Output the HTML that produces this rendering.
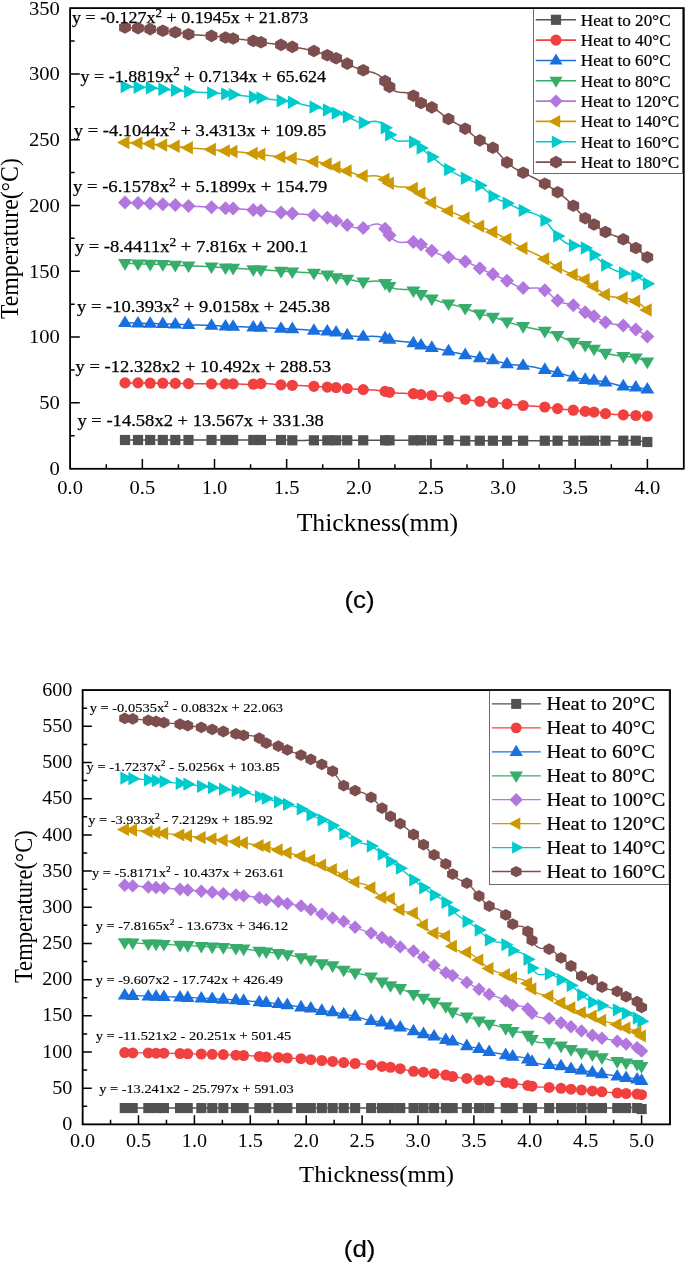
<!DOCTYPE html>
<html lang="en"><head><meta charset="utf-8"><title>Temperature vs thickness</title>
<style>html,body{margin:0;padding:0;background:#fff}svg{display:block}text{font-family:"Liberation Serif","DejaVu Serif",serif;fill:#000}.sans{font-family:"Liberation Sans","DejaVu Sans",sans-serif}</style>
</head><body>
<svg width="685" height="1263" viewBox="0 0 685 1263">
<rect width="685" height="1263" fill="#fff"/>
<g id="chart-c">
<path d="M125,440L126.4,440L127.9,440L129.3,440L130.8,440L132.2,440L133.7,440L135.1,440L136.6,440L138,440L139.4,440L140.7,440L142.1,440L143.4,440L144.8,440L146.1,440L147.5,440L148.8,440L150.2,440L151.6,440L153,440L154.4,440L155.8,440L157.2,440L158.6,440L160,440L161.4,440L162.8,440L164.2,440L165.6,440L167,440L168.4,440L169.7,440L171.1,440L172.5,440L173.9,440L175.3,440L176.8,440L178.2,440L179.7,440L181.2,440L182.6,440L184.1,440L185.6,440L187,440L188.5,440L189.9,440L191.4,440L192.8,440L194.2,440L195.7,440L197.1,440L198.6,440L200,440L201.4,440L202.9,440L204.3,440L205.8,440L207.2,440L208.6,440L210.1,440L211.5,440L212.9,440L214.3,440L215.7,440L217.1,440L218.5,440L219.9,440L221.3,440L222.7,440L224.1,440L225.5,440L226.8,440L228,440L229.3,440L230.6,440L231.8,440L233.1,440L234.5,440L236,440L237.4,440L238.9,440L240.3,440L241.8,440L243.2,440L244.6,440L246.1,440L247.5,440L249,440L250.4,440L251.9,440L253.3,440L254.6,440L255.8,440L257.1,440L258.4,440L259.6,440L260.9,440L262.3,440L263.8,440L265.2,440L266.6,440L268.1,440L269.5,440L270.9,439.9L272.4,439.9L273.8,439.9L275.3,439.9L276.7,439.9L278.1,440L279.6,440L281,440L282.4,440L283.8,440.1L285.2,440.1L286.6,440.1L288.1,440.2L289.5,440.2L290.9,440.3L292.3,440.3L293.7,440.3L295.2,440.3L296.6,440.4L298.1,440.4L299.5,440.4L300.9,440.4L302.4,440.4L303.8,440.4L305.3,440.4L306.7,440.3L308.1,440.3L309.6,440.3L311,440.3L312.5,440.3L313.9,440.3L315.4,440.3L316.9,440.3L318.4,440.3L319.9,440.3L321.3,440.3L322.8,440.3L324.3,440.3L325.8,440.3L327.3,440.3L328.8,440.3L330.2,440.3L331.7,440.3L333.2,440.3L334.6,440.3L336.1,440.3L337.5,440.3L338.9,440.3L340.3,440.3L341.6,440.3L343,440.3L344.4,440.3L345.8,440.3L347.2,440.3L348.7,440.3L350.1,440.3L351.6,440.3L353,440.3L354.5,440.3L355.9,440.3L357.4,440.3L358.8,440.3L360.3,440.3L361.7,440.3L363.2,440.3L364.7,440.3L366.1,440.3L367.6,440.3L369,440.3L370.5,440.3L372,440.3L373.4,440.3L374.9,440.3L376.3,440.3L377.8,440.3L379.3,440.3L380.7,440.3L382.2,440.3L383.6,440.3L385.1,440.3L386.6,440.3L388,440.3L389.5,440.3L391,440.3L392.5,440.3L394,440.3L395.5,440.3L397,440.3L398.5,440.3L400,440.3L401.4,440.3L402.9,440.3L404.4,440.3L405.9,440.3L407.4,440.3L408.9,440.3L410.4,440.3L411.9,440.3L413.4,440.3L414.7,440.3L415.9,440.3L417.2,440.3L418.5,440.3L419.7,440.3L421,440.3L422.4,440.3L423.7,440.3L425.1,440.3L426.4,440.3L427.8,440.3L429.1,440.3L430.4,440.3L431.8,440.3L433.2,440.3L434.6,440.3L436,440.3L437.4,440.3L438.8,440.3L440.1,440.3L441.5,440.3L442.9,440.3L444.3,440.3L445.7,440.3L447.1,440.3L448.5,440.3L449.9,440.3L451.3,440.4L452.7,440.4L454.1,440.4L455.5,440.5L456.9,440.5L458.2,440.5L459.6,440.6L461,440.6L462.4,440.6L463.8,440.7L465.2,440.7L466.7,440.7L468.1,440.7L469.6,440.7L471,440.7L472.5,440.7L474,440.7L475.4,440.7L476.9,440.7L478.3,440.7L479.8,440.7L481.3,440.7L482.7,440.7L484.2,440.7L485.6,440.7L487.1,440.7L488.5,440.7L490,440.7L491.4,440.7L492.9,440.7L494.3,440.7L495.7,440.7L497.1,440.7L498.5,440.7L499.9,440.7L501.4,440.7L502.8,440.7L504.2,440.7L505.6,440.7L507,440.7L508.5,440.7L509.9,440.7L511.4,440.7L512.9,440.7L514.3,440.7L515.8,440.7L517.2,440.7L518.7,440.7L520.2,440.7L521.6,440.7L523.1,440.7L524.5,440.7L526,440.7L527.4,440.7L528.9,440.7L530.3,440.7L531.8,440.7L533.2,440.7L534.7,440.7L536.1,440.7L537.6,440.7L539,440.7L540.5,440.7L541.9,440.7L543.4,440.7L544.8,440.7L546.2,440.7L547.6,440.7L549.1,440.7L550.5,440.7L551.9,440.7L553.3,440.7L554.8,440.7L556.2,440.7L557.6,440.7L559,440.7L560.5,440.7L561.9,440.7L563.3,440.7L564.7,440.7L566.2,440.7L567.6,440.7L569,440.7L570.4,440.7L571.9,440.7L573.3,440.7L574.8,440.7L576.3,440.7L577.8,440.7L579.2,440.7L580.7,440.7L582.2,440.7L583.7,440.7L585.2,440.7L586.7,440.7L588.1,440.7L589.6,440.7L591.1,440.7L592.5,440.7L594,440.7L595.4,440.7L596.9,440.7L598.3,440.7L599.8,440.7L601.2,440.7L602.6,440.7L604.1,440.7L605.5,440.7L607,440.7L608.5,440.7L610,440.7L611.4,440.7L612.9,440.7L614.4,440.7L615.9,440.7L617.4,440.7L618.8,440.7L620.3,440.7L621.8,440.7L623.3,440.7L624.7,440.7L626.1,440.6L627.5,440.6L628.9,440.6L630.2,440.6L631.6,440.6L633,440.6L634.4,440.6L635.8,440.7L637.2,440.8L638.7,440.9L640.1,441.1L641.5,441.2L643,441.4L644.4,441.6L645.9,441.8L647.3,442" fill="none" stroke="#515151" stroke-width="1.5"/>
<g fill="#515151"><rect x="119.9" y="434.9" width="10.2" height="10.2"/><rect x="132.9" y="434.9" width="10.2" height="10.2"/><rect x="145.1" y="434.9" width="10.2" height="10.2"/><rect x="157.7" y="434.9" width="10.2" height="10.2"/><rect x="170.2" y="434.9" width="10.2" height="10.2"/><rect x="183.4" y="434.9" width="10.2" height="10.2"/><rect x="206.4" y="434.9" width="10.2" height="10.2"/><rect x="220.4" y="434.9" width="10.2" height="10.2"/><rect x="228" y="434.9" width="10.2" height="10.2"/><rect x="248.2" y="434.9" width="10.2" height="10.2"/><rect x="255.8" y="434.9" width="10.2" height="10.2"/><rect x="275.9" y="434.9" width="10.2" height="10.2"/><rect x="287.2" y="435.2" width="10.2" height="10.2"/><rect x="308.8" y="435.2" width="10.2" height="10.2"/><rect x="322.2" y="435.2" width="10.2" height="10.2"/><rect x="331" y="435.2" width="10.2" height="10.2"/><rect x="342.1" y="435.2" width="10.2" height="10.2"/><rect x="358.1" y="435.2" width="10.2" height="10.2"/><rect x="380" y="435.2" width="10.2" height="10.2"/><rect x="384.4" y="435.2" width="10.2" height="10.2"/><rect x="408.3" y="435.2" width="10.2" height="10.2"/><rect x="415.9" y="435.2" width="10.2" height="10.2"/><rect x="426.7" y="435.2" width="10.2" height="10.2"/><rect x="443.4" y="435.2" width="10.2" height="10.2"/><rect x="460.1" y="435.6" width="10.2" height="10.2"/><rect x="474.7" y="435.6" width="10.2" height="10.2"/><rect x="487.8" y="435.6" width="10.2" height="10.2"/><rect x="501.9" y="435.6" width="10.2" height="10.2"/><rect x="518" y="435.6" width="10.2" height="10.2"/><rect x="539.7" y="435.6" width="10.2" height="10.2"/><rect x="552.5" y="435.6" width="10.2" height="10.2"/><rect x="568.2" y="435.6" width="10.2" height="10.2"/><rect x="580.1" y="435.6" width="10.2" height="10.2"/><rect x="588.9" y="435.6" width="10.2" height="10.2"/><rect x="600.4" y="435.6" width="10.2" height="10.2"/><rect x="618.2" y="435.6" width="10.2" height="10.2"/><rect x="630.7" y="435.6" width="10.2" height="10.2"/><rect x="642.2" y="436.9" width="10.2" height="10.2"/></g>
<path d="M125,382.9L126.4,382.9L127.9,382.9L129.3,382.9L130.8,382.9L132.2,382.9L133.7,382.9L135.1,382.9L136.6,382.9L138,382.9L139.4,382.9L140.7,383L142.1,383L143.4,383L144.8,383.1L146.1,383.1L147.5,383.1L148.8,383.2L150.2,383.2L151.6,383.2L153,383.2L154.4,383.2L155.8,383.2L157.2,383.2L158.6,383.2L160,383.2L161.4,383.2L162.8,383.2L164.2,383.2L165.6,383.2L167,383.2L168.4,383.3L169.7,383.3L171.1,383.3L172.5,383.3L173.9,383.4L175.3,383.4L176.8,383.4L178.2,383.5L179.7,383.5L181.2,383.5L182.6,383.5L184.1,383.5L185.6,383.6L187,383.6L188.5,383.6L189.9,383.6L191.4,383.6L192.8,383.7L194.2,383.7L195.7,383.7L197.1,383.7L198.6,383.8L200,383.8L201.4,383.8L202.9,383.8L204.3,383.8L205.8,383.8L207.2,383.9L208.6,383.9L210.1,383.9L211.5,383.9L212.9,383.9L214.3,383.9L215.7,383.9L217.1,383.9L218.5,383.9L219.9,383.9L221.3,383.9L222.7,383.9L224.1,383.9L225.5,383.9L226.8,383.9L228,383.9L229.3,383.9L230.6,383.9L231.8,383.9L233.1,383.9L234.5,383.9L236,384L237.4,384L238.9,384.1L240.3,384.1L241.8,384.2L243.2,384.3L244.6,384.3L246.1,384.3L247.5,384.4L249,384.4L250.4,384.3L251.9,384.3L253.3,384.2L254.6,384.1L255.8,384L257.1,383.9L258.4,383.8L259.6,383.7L260.9,383.6L262.3,383.6L263.8,383.6L265.2,383.6L266.6,383.6L268.1,383.7L269.5,383.8L270.9,384L272.4,384.1L273.8,384.2L275.3,384.4L276.7,384.5L278.1,384.7L279.6,384.8L281,384.9L282.4,385L283.8,385.1L285.2,385.1L286.6,385.2L288.1,385.2L289.5,385.2L290.9,385.3L292.3,385.3L293.7,385.3L295.2,385.4L296.6,385.4L298.1,385.5L299.5,385.5L300.9,385.6L302.4,385.7L303.8,385.7L305.3,385.8L306.7,385.9L308.1,386L309.6,386L311,386.1L312.5,386.2L313.9,386.3L315.4,386.4L316.9,386.5L318.4,386.6L319.9,386.7L321.3,386.8L322.8,386.8L324.3,386.9L325.8,387L327.3,387.1L328.8,387.2L330.2,387.3L331.7,387.3L333.2,387.4L334.6,387.5L336.1,387.6L337.5,387.7L338.9,387.8L340.3,387.9L341.6,388L343,388.1L344.4,388.3L345.8,388.4L347.2,388.5L348.7,388.6L350.1,388.7L351.6,388.9L353,389L354.5,389.1L355.9,389.2L357.4,389.3L358.8,389.4L360.3,389.5L361.7,389.5L363.2,389.6L364.7,389.7L366.1,389.7L367.6,389.8L369,389.8L370.5,389.9L372,390L373.4,390L374.9,390.1L376.3,390.2L377.8,390.4L379.3,390.5L380.7,390.7L382.2,390.9L383.6,391.1L385.1,391.4L386.6,391.7L388,392L389.5,392.3L391,392.5L392.5,392.7L394,392.9L395.5,393L397,393.1L398.5,393.2L400,393.2L401.4,393.3L402.9,393.3L404.4,393.3L405.9,393.4L407.4,393.4L408.9,393.4L410.4,393.5L411.9,393.6L413.4,393.7L414.7,393.8L415.9,394L417.2,394.1L418.5,394.3L419.7,394.4L421,394.6L422.4,394.7L423.7,394.9L425.1,395L426.4,395.1L427.8,395.2L429.1,395.3L430.4,395.4L431.8,395.5L433.2,395.6L434.6,395.7L436,395.8L437.4,395.9L438.8,396L440.1,396.1L441.5,396.2L442.9,396.3L444.3,396.5L445.7,396.6L447.1,396.7L448.5,396.9L449.9,397.1L451.3,397.2L452.7,397.4L454.1,397.6L455.5,397.8L456.9,398L458.2,398.2L459.6,398.4L461,398.7L462.4,398.9L463.8,399.1L465.2,399.3L466.7,399.5L468.1,399.7L469.6,400L471,400.2L472.5,400.4L474,400.6L475.4,400.8L476.9,401L478.3,401.1L479.8,401.3L481.3,401.5L482.7,401.6L484.2,401.7L485.6,401.9L487.1,402L488.5,402.1L490,402.2L491.4,402.4L492.9,402.5L494.3,402.6L495.7,402.8L497.1,402.9L498.5,403L499.9,403.2L501.4,403.3L502.8,403.5L504.2,403.6L505.6,403.7L507,403.9L508.5,404.1L509.9,404.2L511.4,404.4L512.9,404.5L514.3,404.7L515.8,404.8L517.2,405L518.7,405.1L520.2,405.3L521.6,405.4L523.1,405.5L524.5,405.6L526,405.7L527.4,405.8L528.9,405.9L530.3,406L531.8,406L533.2,406.1L534.7,406.2L536.1,406.3L537.6,406.4L539,406.5L540.5,406.6L541.9,406.7L543.4,406.9L544.8,407L546.2,407.2L547.6,407.3L549.1,407.5L550.5,407.7L551.9,407.9L553.3,408.1L554.8,408.2L556.2,408.4L557.6,408.6L559,408.8L560.5,408.9L561.9,409.1L563.3,409.2L564.7,409.4L566.2,409.5L567.6,409.6L569,409.8L570.4,409.9L571.9,410.1L573.3,410.2L574.8,410.4L576.3,410.5L577.8,410.7L579.2,410.8L580.7,411L582.2,411.1L583.7,411.3L585.2,411.4L586.7,411.5L588.1,411.6L589.6,411.7L591.1,411.8L592.5,412L594,412.1L595.4,412.3L596.9,412.4L598.3,412.6L599.8,412.8L601.2,413L602.6,413.2L604.1,413.4L605.5,413.6L607,413.8L608.5,413.9L610,414.1L611.4,414.2L612.9,414.3L614.4,414.4L615.9,414.5L617.4,414.6L618.8,414.7L620.3,414.8L621.8,414.8L623.3,414.9L624.7,415L626.1,415L627.5,415.1L628.9,415.2L630.2,415.2L631.6,415.3L633,415.4L634.4,415.4L635.8,415.5L637.2,415.6L638.7,415.6L640.1,415.7L641.5,415.8L643,415.9L644.4,415.9L645.9,416L647.3,416.1" fill="none" stroke="#F14040" stroke-width="1.5"/>
<g fill="#F14040"><circle cx="125" cy="382.9" r="5.6"/><circle cx="138" cy="382.9" r="5.6"/><circle cx="150.2" cy="383.2" r="5.6"/><circle cx="162.8" cy="383.2" r="5.6"/><circle cx="175.3" cy="383.4" r="5.6"/><circle cx="188.5" cy="383.6" r="5.6"/><circle cx="211.5" cy="383.9" r="5.6"/><circle cx="225.5" cy="383.9" r="5.6"/><circle cx="233.1" cy="383.9" r="5.6"/><circle cx="253.3" cy="384.2" r="5.6"/><circle cx="260.9" cy="383.6" r="5.6"/><circle cx="281" cy="384.9" r="5.6"/><circle cx="292.3" cy="385.3" r="5.6"/><circle cx="313.9" cy="386.3" r="5.6"/><circle cx="327.3" cy="387.1" r="5.6"/><circle cx="336.1" cy="387.6" r="5.6"/><circle cx="347.2" cy="388.5" r="5.6"/><circle cx="363.2" cy="389.6" r="5.6"/><circle cx="385.1" cy="391.4" r="5.6"/><circle cx="389.5" cy="392.3" r="5.6"/><circle cx="413.4" cy="393.7" r="5.6"/><circle cx="421" cy="394.6" r="5.6"/><circle cx="431.8" cy="395.5" r="5.6"/><circle cx="448.5" cy="396.9" r="5.6"/><circle cx="465.2" cy="399.3" r="5.6"/><circle cx="479.8" cy="401.3" r="5.6"/><circle cx="492.9" cy="402.5" r="5.6"/><circle cx="507" cy="403.9" r="5.6"/><circle cx="523.1" cy="405.5" r="5.6"/><circle cx="544.8" cy="407" r="5.6"/><circle cx="557.6" cy="408.6" r="5.6"/><circle cx="573.3" cy="410.2" r="5.6"/><circle cx="585.2" cy="411.4" r="5.6"/><circle cx="594" cy="412.1" r="5.6"/><circle cx="605.5" cy="413.6" r="5.6"/><circle cx="623.3" cy="414.9" r="5.6"/><circle cx="635.8" cy="415.5" r="5.6"/><circle cx="647.3" cy="416.1" r="5.6"/></g>
<path d="M125,322.8L126.4,322.8L127.9,322.9L129.3,322.9L130.8,323L132.2,323L133.7,323.1L135.1,323.1L136.6,323.2L138,323.2L139.4,323.2L140.7,323.3L142.1,323.3L143.4,323.3L144.8,323.4L146.1,323.4L147.5,323.4L148.8,323.5L150.2,323.5L151.6,323.5L153,323.6L154.4,323.6L155.8,323.6L157.2,323.7L158.6,323.7L160,323.7L161.4,323.8L162.8,323.8L164.2,323.8L165.6,323.9L167,323.9L168.4,324L169.7,324L171.1,324L172.5,324.1L173.9,324.1L175.3,324.2L176.8,324.3L178.2,324.3L179.7,324.4L181.2,324.5L182.6,324.5L184.1,324.6L185.6,324.7L187,324.7L188.5,324.8L189.9,324.9L191.4,324.9L192.8,324.9L194.2,325L195.7,325L197.1,325.1L198.6,325.1L200,325.1L201.4,325.2L202.9,325.2L204.3,325.3L205.8,325.3L207.2,325.3L208.6,325.4L210.1,325.4L211.5,325.5L212.9,325.6L214.3,325.6L215.7,325.7L217.1,325.8L218.5,325.8L219.9,325.9L221.3,326L222.7,326.1L224.1,326.1L225.5,326.2L226.8,326.3L228,326.3L229.3,326.4L230.6,326.4L231.8,326.5L233.1,326.5L234.5,326.6L236,326.6L237.4,326.7L238.9,326.7L240.3,326.8L241.8,326.8L243.2,326.8L244.6,326.9L246.1,326.9L247.5,327L249,327L250.4,327.1L251.9,327.1L253.3,327.2L254.6,327.2L255.8,327.3L257.1,327.3L258.4,327.4L259.6,327.4L260.9,327.5L262.3,327.6L263.8,327.6L265.2,327.7L266.6,327.8L268.1,327.9L269.5,327.9L270.9,328L272.4,328.1L273.8,328.2L275.3,328.2L276.7,328.3L278.1,328.4L279.6,328.4L281,328.5L282.4,328.5L283.8,328.6L285.2,328.6L286.6,328.7L288.1,328.7L289.5,328.8L290.9,328.8L292.3,328.9L293.7,329L295.2,329.1L296.6,329.2L298.1,329.3L299.5,329.4L300.9,329.5L302.4,329.6L303.8,329.7L305.3,329.8L306.7,329.9L308.1,330.1L309.6,330.2L311,330.3L312.5,330.4L313.9,330.5L315.4,330.6L316.9,330.7L318.4,330.8L319.9,330.9L321.3,331L322.8,331.1L324.3,331.1L325.8,331.2L327.3,331.3L328.8,331.4L330.2,331.5L331.7,331.6L333.2,331.8L334.6,331.9L336.1,332.2L337.5,332.5L338.9,332.8L340.3,333.2L341.6,333.6L343,334L344.4,334.4L345.8,334.8L347.2,335.1L348.7,335.4L350.1,335.7L351.6,335.9L353,336.1L354.5,336.2L355.9,336.3L357.4,336.4L358.8,336.5L360.3,336.5L361.7,336.5L363.2,336.5L364.7,336.5L366.1,336.4L367.6,336.4L369,336.4L370.5,336.3L372,336.3L373.4,336.3L374.9,336.4L376.3,336.5L377.8,336.6L379.3,336.7L380.7,337L382.2,337.2L383.6,337.6L385.1,338L386.6,338.5L388,339L389.5,339.5L391,339.9L392.5,340.3L394,340.6L395.5,340.8L397,341L398.5,341.2L400,341.3L401.4,341.4L402.9,341.6L404.4,341.7L405.9,341.8L407.4,342L408.9,342.1L410.4,342.4L411.9,342.7L413.4,343L414.7,343.3L415.9,343.7L417.2,344.1L418.5,344.5L419.7,344.9L421,345.3L422.4,345.7L423.7,346L425.1,346.3L426.4,346.6L427.8,346.8L429.1,347.1L430.4,347.4L431.8,347.6L433.2,347.9L434.6,348.1L436,348.4L437.4,348.7L438.8,349L440.1,349.3L441.5,349.6L442.9,349.9L444.3,350.2L445.7,350.5L447.1,350.8L448.5,351.1L449.9,351.4L451.3,351.7L452.7,352L454.1,352.4L455.5,352.7L456.9,353L458.2,353.3L459.6,353.6L461,353.9L462.4,354.3L463.8,354.6L465.2,354.9L466.7,355.2L468.1,355.6L469.6,355.9L471,356.2L472.5,356.5L474,356.8L475.4,357.1L476.9,357.4L478.3,357.7L479.8,357.9L481.3,358.1L482.7,358.3L484.2,358.5L485.6,358.7L487.1,358.9L488.5,359.2L490,359.4L491.4,359.7L492.9,360L494.3,360.4L495.7,360.7L497.1,361.1L498.5,361.6L499.9,362L501.4,362.4L502.8,362.8L504.2,363.2L505.6,363.6L507,363.9L508.5,364.2L509.9,364.4L511.4,364.6L512.9,364.7L514.3,364.9L515.8,365L517.2,365.1L518.7,365.2L520.2,365.3L521.6,365.4L523.1,365.5L524.5,365.7L526,365.8L527.4,366L528.9,366.3L530.3,366.5L531.8,366.8L533.2,367L534.7,367.3L536.1,367.6L537.6,367.9L539,368.3L540.5,368.6L541.9,368.9L543.4,369.3L544.8,369.6L546.2,369.9L547.6,370.3L549.1,370.6L550.5,370.9L551.9,371.3L553.3,371.6L554.8,372L556.2,372.3L557.6,372.7L559,373.1L560.5,373.5L561.9,373.9L563.3,374.3L564.7,374.7L566.2,375.1L567.6,375.5L569,375.9L570.4,376.3L571.9,376.7L573.3,377.1L574.8,377.5L576.3,377.9L577.8,378.2L579.2,378.5L580.7,378.8L582.2,379.1L583.7,379.4L585.2,379.6L586.7,379.8L588.1,380L589.6,380.1L591.1,380.2L592.5,380.4L594,380.5L595.4,380.6L596.9,380.8L598.3,381L599.8,381.1L601.2,381.3L602.6,381.6L604.1,381.8L605.5,382.1L607,382.4L608.5,382.8L610,383.1L611.4,383.5L612.9,383.8L614.4,384.2L615.9,384.6L617.4,384.9L618.8,385.3L620.3,385.6L621.8,385.9L623.3,386.1L624.7,386.3L626.1,386.4L627.5,386.6L628.9,386.7L630.2,386.8L631.6,386.9L633,387L634.4,387.2L635.8,387.3L637.2,387.5L638.7,387.7L640.1,387.9L641.5,388.2L643,388.4L644.4,388.7L645.9,389L647.3,389.3" fill="none" stroke="#1A6FDF" stroke-width="1.5"/>
<g fill="#1A6FDF"><polygon points="118,327.1 132,327.1 125,315.5"/><polygon points="131,327.5 145,327.5 138,315.9"/><polygon points="143.2,327.8 157.2,327.8 150.2,316.2"/><polygon points="155.8,328.1 169.8,328.1 162.8,316.5"/><polygon points="168.3,328.5 182.3,328.5 175.3,316.9"/><polygon points="181.5,329.1 195.5,329.1 188.5,317.5"/><polygon points="204.5,329.8 218.5,329.8 211.5,318.2"/><polygon points="218.5,330.5 232.5,330.5 225.5,318.9"/><polygon points="226.1,330.8 240.1,330.8 233.1,319.2"/><polygon points="246.3,331.5 260.3,331.5 253.3,319.9"/><polygon points="253.9,331.8 267.9,331.8 260.9,320.2"/><polygon points="274,332.8 288,332.8 281,321.2"/><polygon points="285.3,333.2 299.3,333.2 292.3,321.6"/><polygon points="306.9,334.8 320.9,334.8 313.9,323.2"/><polygon points="320.3,335.6 334.3,335.6 327.3,324"/><polygon points="329.1,336.5 343.1,336.5 336.1,324.9"/><polygon points="340.2,339.4 354.2,339.4 347.2,327.8"/><polygon points="356.2,340.8 370.2,340.8 363.2,329.2"/><polygon points="378.1,342.3 392.1,342.3 385.1,330.7"/><polygon points="382.5,343.8 396.5,343.8 389.5,332.2"/><polygon points="406.4,347.3 420.4,347.3 413.4,335.7"/><polygon points="414,349.6 428,349.6 421,338"/><polygon points="424.8,351.9 438.8,351.9 431.8,340.3"/><polygon points="441.5,355.4 455.5,355.4 448.5,343.8"/><polygon points="458.2,359.2 472.2,359.2 465.2,347.6"/><polygon points="472.8,362.2 486.8,362.2 479.8,350.6"/><polygon points="485.9,364.3 499.9,364.3 492.9,352.7"/><polygon points="500,368.2 514,368.2 507,356.6"/><polygon points="516.1,369.8 530.1,369.8 523.1,358.2"/><polygon points="537.8,373.9 551.8,373.9 544.8,362.3"/><polygon points="550.6,377 564.6,377 557.6,365.4"/><polygon points="566.3,381.4 580.3,381.4 573.3,369.8"/><polygon points="578.2,383.9 592.2,383.9 585.2,372.3"/><polygon points="587,384.8 601,384.8 594,373.2"/><polygon points="598.5,386.4 612.5,386.4 605.5,374.8"/><polygon points="616.3,390.4 630.3,390.4 623.3,378.8"/><polygon points="628.8,391.6 642.8,391.6 635.8,380"/><polygon points="640.3,393.6 654.3,393.6 647.3,382"/></g>
<path d="M125,263.4L126.4,263.4L127.9,263.5L129.3,263.5L130.8,263.6L132.2,263.6L133.7,263.7L135.1,263.7L136.6,263.8L138,263.8L139.4,263.8L140.7,263.9L142.1,263.9L143.4,263.9L144.8,264L146.1,264L147.5,264L148.8,264.1L150.2,264.1L151.6,264.1L153,264.2L154.4,264.2L155.8,264.2L157.2,264.2L158.6,264.3L160,264.3L161.4,264.3L162.8,264.4L164.2,264.5L165.6,264.5L167,264.6L168.4,264.7L169.7,264.8L171.1,264.8L172.5,264.9L173.9,265L175.3,265.1L176.8,265.2L178.2,265.3L179.7,265.4L181.2,265.4L182.6,265.5L184.1,265.6L185.6,265.7L187,265.7L188.5,265.8L189.9,265.9L191.4,265.9L192.8,266L194.2,266L195.7,266.1L197.1,266.1L198.6,266.2L200,266.2L201.4,266.3L202.9,266.3L204.3,266.4L205.8,266.5L207.2,266.5L208.6,266.6L210.1,266.7L211.5,266.8L212.9,266.9L214.3,267L215.7,267.1L217.1,267.2L218.5,267.3L219.9,267.4L221.3,267.5L222.7,267.6L224.1,267.7L225.5,267.8L226.8,267.9L228,267.9L229.3,268L230.6,268L231.8,268L233.1,268.1L234.5,268.2L236,268.3L237.4,268.4L238.9,268.5L240.3,268.6L241.8,268.7L243.2,268.8L244.6,268.9L246.1,269L247.5,269.1L249,269.2L250.4,269.3L251.9,269.4L253.3,269.5L254.6,269.6L255.8,269.6L257.1,269.7L258.4,269.7L259.6,269.7L260.9,269.8L262.3,269.9L263.8,269.9L265.2,270L266.6,270.1L268.1,270.2L269.5,270.3L270.9,270.4L272.4,270.5L273.8,270.6L275.3,270.7L276.7,270.8L278.1,270.9L279.6,271L281,271.1L282.4,271.2L283.8,271.3L285.2,271.4L286.6,271.5L288.1,271.5L289.5,271.6L290.9,271.7L292.3,271.8L293.7,271.9L295.2,272L296.6,272.1L298.1,272.1L299.5,272.2L300.9,272.3L302.4,272.4L303.8,272.5L305.3,272.5L306.7,272.6L308.1,272.7L309.6,272.8L311,272.8L312.5,272.9L313.9,273L315.4,273.1L316.9,273.2L318.4,273.3L319.9,273.4L321.3,273.6L322.8,273.8L324.3,274L325.8,274.3L327.3,274.7L328.8,275.1L330.2,275.6L331.7,276.1L333.2,276.6L334.6,277.1L336.1,277.5L337.5,277.8L338.9,278L340.3,278.2L341.6,278.4L343,278.5L344.4,278.7L345.8,278.8L347.2,279L348.7,279.2L350.1,279.5L351.6,279.9L353,280.2L354.5,280.5L355.9,280.9L357.4,281.2L358.8,281.4L360.3,281.6L361.7,281.8L363.2,281.9L364.7,281.9L366.1,281.8L367.6,281.7L369,281.6L370.5,281.4L372,281.3L373.4,281.2L374.9,281.1L376.3,281.1L377.8,281.2L379.3,281.3L380.7,281.6L382.2,282.1L383.6,282.6L385.1,283.4L386.6,284.3L388,285.3L389.5,286.3L391,287.1L392.5,287.8L394,288.3L395.5,288.7L397,288.9L398.5,289.1L400,289.2L401.4,289.3L402.9,289.4L404.4,289.4L405.9,289.5L407.4,289.6L408.9,289.7L410.4,290L411.9,290.3L413.4,290.7L414.7,291.2L415.9,291.7L417.2,292.3L418.5,292.9L419.7,293.6L421,294.2L422.4,294.9L423.7,295.5L425.1,296.1L426.4,296.7L427.8,297.3L429.1,297.9L430.4,298.4L431.8,298.9L433.2,299.4L434.6,299.9L436,300.3L437.4,300.8L438.8,301.2L440.1,301.6L441.5,302L442.9,302.4L444.3,302.8L445.7,303.1L447.1,303.5L448.5,303.8L449.9,304.1L451.3,304.4L452.7,304.8L454.1,305.1L455.5,305.4L456.9,305.8L458.2,306.1L459.6,306.5L461,306.9L462.4,307.3L463.8,307.7L465.2,308.2L466.7,308.7L468.1,309.3L469.6,309.9L471,310.5L472.5,311.1L474,311.7L475.4,312.2L476.9,312.8L478.3,313.3L479.8,313.8L481.3,314.2L482.7,314.6L484.2,315L485.6,315.3L487.1,315.6L488.5,316L490,316.3L491.4,316.6L492.9,317L494.3,317.4L495.7,317.8L497.1,318.3L498.5,318.7L499.9,319.2L501.4,319.7L502.8,320.2L504.2,320.7L505.6,321.2L507,321.7L508.5,322.2L509.9,322.7L511.4,323.1L512.9,323.6L514.3,324L515.8,324.5L517.2,324.9L518.7,325.3L520.2,325.7L521.6,326L523.1,326.4L524.5,326.7L526,327.1L527.4,327.4L528.9,327.7L530.3,328L531.8,328.3L533.2,328.6L534.7,328.9L536.1,329.2L537.6,329.5L539,329.8L540.5,330.1L541.9,330.4L543.4,330.8L544.8,331.1L546.2,331.5L547.6,331.8L549.1,332.2L550.5,332.6L551.9,333.1L553.3,333.6L554.8,334.1L556.2,334.6L557.6,335.2L559,335.8L560.5,336.5L561.9,337.1L563.3,337.8L564.7,338.5L566.2,339.2L567.6,339.8L569,340.5L570.4,341.1L571.9,341.6L573.3,342.1L574.8,342.5L576.3,342.9L577.8,343.3L579.2,343.6L580.7,344L582.2,344.3L583.7,344.7L585.2,345.2L586.7,345.7L588.1,346.3L589.6,347L591.1,347.7L592.5,348.3L594,349L595.4,349.6L596.9,350.2L598.3,350.8L599.8,351.3L601.2,351.8L602.6,352.3L604.1,352.7L605.5,353.1L607,353.5L608.5,353.9L610,354.2L611.4,354.5L612.9,354.8L614.4,355.1L615.9,355.3L617.4,355.5L618.8,355.7L620.3,355.9L621.8,356.1L623.3,356.2L624.7,356.3L626.1,356.4L627.5,356.6L628.9,356.7L630.2,356.8L631.6,357L633,357.2L634.4,357.5L635.8,357.8L637.2,358.2L638.7,358.6L640.1,359.1L641.5,359.6L643,360.1L644.4,360.7L645.9,361.3L647.3,361.9" fill="none" stroke="#37AD6B" stroke-width="1.5"/>
<g fill="#37AD6B"><polygon points="118,259.1 132,259.1 125,270.7"/><polygon points="131,259.5 145,259.5 138,271.1"/><polygon points="143.2,259.8 157.2,259.8 150.2,271.4"/><polygon points="155.8,260.1 169.8,260.1 162.8,271.7"/><polygon points="168.3,260.8 182.3,260.8 175.3,272.4"/><polygon points="181.5,261.5 195.5,261.5 188.5,273.1"/><polygon points="204.5,262.5 218.5,262.5 211.5,274.1"/><polygon points="218.5,263.5 232.5,263.5 225.5,275.1"/><polygon points="226.1,263.8 240.1,263.8 233.1,275.4"/><polygon points="246.3,265.2 260.3,265.2 253.3,276.8"/><polygon points="253.9,265.5 267.9,265.5 260.9,277.1"/><polygon points="274,266.8 288,266.8 281,278.4"/><polygon points="285.3,267.5 299.3,267.5 292.3,279.1"/><polygon points="306.9,268.7 320.9,268.7 313.9,280.3"/><polygon points="320.3,270.4 334.3,270.4 327.3,282"/><polygon points="329.1,273.2 343.1,273.2 336.1,284.8"/><polygon points="340.2,274.7 354.2,274.7 347.2,286.3"/><polygon points="356.2,277.6 370.2,277.6 363.2,289.2"/><polygon points="378.1,279.1 392.1,279.1 385.1,290.7"/><polygon points="382.5,282 396.5,282 389.5,293.6"/><polygon points="406.4,286.4 420.4,286.4 413.4,298"/><polygon points="414,289.9 428,289.9 421,301.5"/><polygon points="424.8,294.6 438.8,294.6 431.8,306.2"/><polygon points="441.5,299.5 455.5,299.5 448.5,311.1"/><polygon points="458.2,303.9 472.2,303.9 465.2,315.5"/><polygon points="472.8,309.5 486.8,309.5 479.8,321.1"/><polygon points="485.9,312.7 499.9,312.7 492.9,324.3"/><polygon points="500,317.4 514,317.4 507,329"/><polygon points="516.1,322.1 530.1,322.1 523.1,333.7"/><polygon points="537.8,326.8 551.8,326.8 544.8,338.4"/><polygon points="550.6,330.9 564.6,330.9 557.6,342.5"/><polygon points="566.3,337.8 580.3,337.8 573.3,349.4"/><polygon points="578.2,340.9 592.2,340.9 585.2,352.5"/><polygon points="587,344.7 601,344.7 594,356.3"/><polygon points="598.5,348.8 612.5,348.8 605.5,360.4"/><polygon points="616.3,351.9 630.3,351.9 623.3,363.5"/><polygon points="628.8,353.5 642.8,353.5 635.8,365.1"/><polygon points="640.3,357.6 654.3,357.6 647.3,369.2"/></g>
<path d="M125,202.6L126.4,202.6L127.9,202.6L129.3,202.7L130.8,202.7L132.2,202.7L133.7,202.8L135.1,202.8L136.6,202.8L138,202.9L139.4,203L140.7,203L142.1,203.1L143.4,203.2L144.8,203.3L146.1,203.4L147.5,203.4L148.8,203.5L150.2,203.6L151.6,203.7L153,203.7L154.4,203.8L155.8,203.9L157.2,203.9L158.6,204L160,204.1L161.4,204.1L162.8,204.2L164.2,204.3L165.6,204.3L167,204.4L168.4,204.5L169.7,204.6L171.1,204.6L172.5,204.7L173.9,204.8L175.3,204.9L176.8,205L178.2,205.1L179.7,205.2L181.2,205.3L182.6,205.5L184.1,205.6L185.6,205.7L187,205.8L188.5,205.9L189.9,206L191.4,206.1L192.8,206.2L194.2,206.3L195.7,206.4L197.1,206.4L198.6,206.5L200,206.6L201.4,206.7L202.9,206.8L204.3,206.8L205.8,206.9L207.2,207L208.6,207.1L210.1,207.2L211.5,207.3L212.9,207.4L214.3,207.5L215.7,207.6L217.1,207.7L218.5,207.8L219.9,207.9L221.3,208L222.7,208.1L224.1,208.2L225.5,208.3L226.8,208.4L228,208.4L229.3,208.5L230.6,208.5L231.8,208.5L233.1,208.6L234.5,208.7L236,208.7L237.4,208.8L238.9,208.9L240.3,209L241.8,209.1L243.2,209.2L244.6,209.3L246.1,209.4L247.5,209.5L249,209.7L250.4,209.8L251.9,209.9L253.3,210L254.6,210.1L255.8,210.2L257.1,210.3L258.4,210.4L259.6,210.5L260.9,210.6L262.3,210.7L263.8,210.9L265.2,211L266.6,211.1L268.1,211.3L269.5,211.4L270.9,211.6L272.4,211.7L273.8,211.9L275.3,212L276.7,212.2L278.1,212.3L279.6,212.5L281,212.6L282.4,212.7L283.8,212.9L285.2,213L286.6,213.1L288.1,213.3L289.5,213.4L290.9,213.5L292.3,213.6L293.7,213.7L295.2,213.8L296.6,213.9L298.1,214L299.5,214L300.9,214.1L302.4,214.2L303.8,214.3L305.3,214.4L306.7,214.5L308.1,214.6L309.6,214.7L311,214.9L312.5,215L313.9,215.2L315.4,215.4L316.9,215.6L318.4,215.8L319.9,216.1L321.3,216.4L322.8,216.7L324.3,217L325.8,217.4L327.3,217.8L328.8,218.2L330.2,218.7L331.7,219.2L333.2,219.6L334.6,220.2L336.1,220.7L337.5,221.2L338.9,221.7L340.3,222.3L341.6,222.8L343,223.4L344.4,223.9L345.8,224.5L347.2,225L348.7,225.6L350.1,226.1L351.6,226.6L353,227.1L354.5,227.5L355.9,227.8L357.4,228.1L358.8,228.3L360.3,228.3L361.7,228.2L363.2,228L364.7,227.6L366.1,227.2L367.6,226.6L369,226L370.5,225.5L372,224.9L373.4,224.5L374.9,224.2L376.3,224L377.8,224.1L379.3,224.4L380.7,224.9L382.2,225.8L383.6,227.1L385.1,228.8L386.6,230.9L388,233.1L389.5,235.3L391,237.2L392.5,238.7L394,239.9L395.5,240.8L397,241.5L398.5,242L400,242.2L401.4,242.4L402.9,242.4L404.4,242.3L405.9,242.2L407.4,242L408.9,241.9L410.4,241.9L411.9,241.9L413.4,242L414.7,242.2L415.9,242.5L417.2,243L418.5,243.4L419.7,244L421,244.6L422.4,245.3L423.7,246L425.1,246.8L426.4,247.6L427.8,248.4L429.1,249.2L430.4,250L431.8,250.7L433.2,251.4L434.6,252.1L436,252.8L437.4,253.4L438.8,254L440.1,254.5L441.5,255.1L442.9,255.5L444.3,256L445.7,256.4L447.1,256.8L448.5,257.2L449.9,257.6L451.3,257.9L452.7,258.2L454.1,258.5L455.5,258.8L456.9,259.2L458.2,259.5L459.6,259.8L461,260.2L462.4,260.6L463.8,261L465.2,261.5L466.7,262L468.1,262.6L469.6,263.3L471,263.9L472.5,264.6L474,265.3L475.4,266L476.9,266.7L478.3,267.5L479.8,268.2L481.3,268.9L482.7,269.6L484.2,270.3L485.6,271L487.1,271.7L488.5,272.3L490,273L491.4,273.7L492.9,274.3L494.3,274.9L495.7,275.5L497.1,276.2L498.5,276.8L499.9,277.4L501.4,278L502.8,278.7L504.2,279.4L505.6,280.1L507,280.8L508.5,281.6L509.9,282.4L511.4,283.2L512.9,284L514.3,284.7L515.8,285.5L517.2,286.1L518.7,286.7L520.2,287.3L521.6,287.7L523.1,288L524.5,288.2L526,288.3L527.4,288.3L528.9,288.2L530.3,288.2L531.8,288.1L533.2,288L534.7,287.9L536.1,287.9L537.6,288L539,288.2L540.5,288.4L541.9,288.9L543.4,289.4L544.8,290.2L546.2,291.1L547.6,292.2L549.1,293.4L550.5,294.7L551.9,296L553.3,297.3L554.8,298.5L556.2,299.6L557.6,300.6L559,301.4L560.5,302L561.9,302.5L563.3,302.9L564.7,303.2L566.2,303.5L567.6,303.8L569,304.1L570.4,304.4L571.9,304.8L573.3,305.3L574.8,306L576.3,306.7L577.8,307.6L579.2,308.5L580.7,309.5L582.2,310.4L583.7,311.3L585.2,312.2L586.7,313L588.1,313.7L589.6,314.3L591.1,315L592.5,315.6L594,316.3L595.4,317L596.9,317.8L598.3,318.6L599.8,319.4L601.2,320.2L602.6,320.9L604.1,321.6L605.5,322.2L607,322.7L608.5,323.2L610,323.5L611.4,323.8L612.9,324.1L614.4,324.3L615.9,324.5L617.4,324.6L618.8,324.8L620.3,325L621.8,325.2L623.3,325.4L624.7,325.7L626.1,326L627.5,326.3L628.9,326.7L630.2,327.2L631.6,327.7L633,328.2L634.4,328.8L635.8,329.5L637.2,330.2L638.7,331L640.1,331.9L641.5,332.7L643,333.6L644.4,334.5L645.9,335.5L647.3,336.4" fill="none" stroke="#B177DE" stroke-width="1.5"/>
<g fill="#B177DE"><polygon points="118,202.6 125,195.6 132,202.6 125,209.6"/><polygon points="131,202.9 138,195.9 145,202.9 138,209.9"/><polygon points="143.2,203.6 150.2,196.6 157.2,203.6 150.2,210.6"/><polygon points="155.8,204.2 162.8,197.2 169.8,204.2 162.8,211.2"/><polygon points="168.3,204.9 175.3,197.9 182.3,204.9 175.3,211.9"/><polygon points="181.5,205.9 188.5,198.9 195.5,205.9 188.5,212.9"/><polygon points="204.5,207.3 211.5,200.3 218.5,207.3 211.5,214.3"/><polygon points="218.5,208.3 225.5,201.3 232.5,208.3 225.5,215.3"/><polygon points="226.1,208.6 233.1,201.6 240.1,208.6 233.1,215.6"/><polygon points="246.3,210 253.3,203 260.3,210 253.3,217"/><polygon points="253.9,210.6 260.9,203.6 267.9,210.6 260.9,217.6"/><polygon points="274,212.6 281,205.6 288,212.6 281,219.6"/><polygon points="285.3,213.6 292.3,206.6 299.3,213.6 292.3,220.6"/><polygon points="306.9,215.2 313.9,208.2 320.9,215.2 313.9,222.2"/><polygon points="320.3,217.8 327.3,210.8 334.3,217.8 327.3,224.8"/><polygon points="329.1,220.7 336.1,213.7 343.1,220.7 336.1,227.7"/><polygon points="340.2,225 347.2,218 354.2,225 347.2,232"/><polygon points="356.2,228 363.2,221 370.2,228 363.2,235"/><polygon points="378.1,228.8 385.1,221.8 392.1,228.8 385.1,235.8"/><polygon points="382.5,235.3 389.5,228.3 396.5,235.3 389.5,242.3"/><polygon points="406.4,242 413.4,235 420.4,242 413.4,249"/><polygon points="414,244.6 421,237.6 428,244.6 421,251.6"/><polygon points="424.8,250.7 431.8,243.7 438.8,250.7 431.8,257.7"/><polygon points="441.5,257.2 448.5,250.2 455.5,257.2 448.5,264.2"/><polygon points="458.2,261.5 465.2,254.5 472.2,261.5 465.2,268.5"/><polygon points="472.8,268.2 479.8,261.2 486.8,268.2 479.8,275.2"/><polygon points="485.9,274.3 492.9,267.3 499.9,274.3 492.9,281.3"/><polygon points="500,280.8 507,273.8 514,280.8 507,287.8"/><polygon points="516.1,288 523.1,281 530.1,288 523.1,295"/><polygon points="537.8,290.2 544.8,283.2 551.8,290.2 544.8,297.2"/><polygon points="550.6,300.6 557.6,293.6 564.6,300.6 557.6,307.6"/><polygon points="566.3,305.3 573.3,298.3 580.3,305.3 573.3,312.3"/><polygon points="578.2,312.2 585.2,305.2 592.2,312.2 585.2,319.2"/><polygon points="587,316.3 594,309.3 601,316.3 594,323.3"/><polygon points="598.5,322.2 605.5,315.2 612.5,322.2 605.5,329.2"/><polygon points="616.3,325.4 623.3,318.4 630.3,325.4 623.3,332.4"/><polygon points="628.8,329.5 635.8,322.5 642.8,329.5 635.8,336.5"/><polygon points="640.3,336.4 647.3,329.4 654.3,336.4 647.3,343.4"/></g>
<path d="M125,142.5L126.4,142.6L127.9,142.6L129.3,142.7L130.8,142.8L132.2,142.8L133.7,142.9L135.1,143L136.6,143L138,143.1L139.4,143.2L140.7,143.2L142.1,143.3L143.4,143.4L144.8,143.4L146.1,143.5L147.5,143.6L148.8,143.7L150.2,143.8L151.6,143.9L153,144.1L154.4,144.2L155.8,144.4L157.2,144.5L158.6,144.7L160,144.8L161.4,145L162.8,145.1L164.2,145.2L165.6,145.3L167,145.5L168.4,145.6L169.7,145.7L171.1,145.8L172.5,145.9L173.9,146.1L175.3,146.2L176.8,146.4L178.2,146.5L179.7,146.7L181.2,146.9L182.6,147.1L184.1,147.3L185.6,147.5L187,147.6L188.5,147.8L189.9,147.9L191.4,148.1L192.8,148.2L194.2,148.3L195.7,148.4L197.1,148.5L198.6,148.6L200,148.7L201.4,148.8L202.9,148.9L204.3,149L205.8,149.1L207.2,149.2L208.6,149.3L210.1,149.4L211.5,149.5L212.9,149.6L214.3,149.8L215.7,149.9L217.1,150L218.5,150.2L219.9,150.3L221.3,150.5L222.7,150.6L224.1,150.8L225.5,150.9L226.8,151L228,151.1L229.3,151.2L230.6,151.3L231.8,151.4L233.1,151.5L234.5,151.6L236,151.7L237.4,151.9L238.9,152L240.3,152.1L241.8,152.2L243.2,152.4L244.6,152.5L246.1,152.7L247.5,152.8L249,153L250.4,153.2L251.9,153.3L253.3,153.5L254.6,153.7L255.8,153.8L257.1,154L258.4,154.2L259.6,154.3L260.9,154.5L262.3,154.7L263.8,154.9L265.2,155.1L266.6,155.2L268.1,155.4L269.5,155.6L270.9,155.8L272.4,155.9L273.8,156.1L275.3,156.3L276.7,156.4L278.1,156.6L279.6,156.7L281,156.9L282.4,157.1L283.8,157.2L285.2,157.4L286.6,157.5L288.1,157.7L289.5,157.8L290.9,158L292.3,158.2L293.7,158.4L295.2,158.6L296.6,158.8L298.1,159.1L299.5,159.3L300.9,159.6L302.4,159.8L303.8,160L305.3,160.3L306.7,160.5L308.1,160.8L309.6,161L311,161.2L312.5,161.4L313.9,161.6L315.4,161.8L316.9,162L318.4,162.2L319.9,162.3L321.3,162.6L322.8,162.8L324.3,163.1L325.8,163.5L327.3,163.9L328.8,164.4L330.2,164.9L331.7,165.5L333.2,166.1L334.6,166.6L336.1,167.2L337.5,167.7L338.9,168.2L340.3,168.6L341.6,169.1L343,169.5L344.4,170L345.8,170.4L347.2,170.9L348.7,171.4L350.1,172L351.6,172.5L353,173.1L354.5,173.6L355.9,174.2L357.4,174.6L358.8,175.1L360.3,175.4L361.7,175.7L363.2,175.9L364.7,176L366.1,176L367.6,176L369,175.9L370.5,175.9L372,175.8L373.4,175.8L374.9,175.8L376.3,175.9L377.8,176.1L379.3,176.4L380.7,176.9L382.2,177.5L383.6,178.4L385.1,179.4L386.6,180.6L388,182L389.5,183.2L391,184.3L392.5,185.1L394,185.7L395.5,186.2L397,186.5L398.5,186.8L400,186.9L401.4,187L402.9,187L404.4,187.1L405.9,187.1L407.4,187.2L408.9,187.4L410.4,187.6L411.9,188L413.4,188.5L414.7,189.1L415.9,189.8L417.2,190.5L418.5,191.4L419.7,192.4L421,193.4L422.4,194.6L423.7,195.8L425.1,197L426.4,198.2L427.8,199.4L429.1,200.6L430.4,201.7L431.8,202.8L433.2,203.8L434.6,204.7L436,205.5L437.4,206.3L438.8,207L440.1,207.6L441.5,208.2L442.9,208.8L444.3,209.3L445.7,209.9L447.1,210.4L448.5,210.9L449.9,211.4L451.3,212L452.7,212.5L454.1,213.1L455.5,213.7L456.9,214.2L458.2,214.9L459.6,215.5L461,216.1L462.4,216.8L463.8,217.5L465.2,218.2L466.7,219L468.1,219.8L469.6,220.6L471,221.4L472.5,222.2L474,223L475.4,223.8L476.9,224.6L478.3,225.4L479.8,226.1L481.3,226.8L482.7,227.5L484.2,228.1L485.6,228.8L487.1,229.4L488.5,230.1L490,230.7L491.4,231.3L492.9,232L494.3,232.7L495.7,233.3L497.1,234L498.5,234.7L499.9,235.5L501.4,236.2L502.8,237L504.2,237.7L505.6,238.5L507,239.3L508.5,240.1L509.9,241L511.4,241.8L512.9,242.6L514.3,243.5L515.8,244.3L517.2,245.1L518.7,245.9L520.2,246.7L521.6,247.5L523.1,248.2L524.5,248.9L526,249.6L527.4,250.3L528.9,251L530.3,251.6L531.8,252.3L533.2,252.9L534.7,253.6L536.1,254.3L537.6,255L539,255.7L540.5,256.5L541.9,257.2L543.4,258.1L544.8,258.9L546.2,259.8L547.6,260.7L549.1,261.6L550.5,262.6L551.9,263.5L553.3,264.5L554.8,265.4L556.2,266.3L557.6,267.2L559,268L560.5,268.9L561.9,269.6L563.3,270.4L564.7,271.1L566.2,271.7L567.6,272.4L569,273L570.4,273.5L571.9,274.1L573.3,274.6L574.8,275.1L576.3,275.6L577.8,276.2L579.2,276.7L580.7,277.3L582.2,278L583.7,278.7L585.2,279.6L586.7,280.6L588.1,281.6L589.6,282.8L591.1,284L592.5,285.2L594,286.4L595.4,287.6L596.9,288.8L598.3,289.9L599.8,290.9L601.2,292L602.6,292.9L604.1,293.7L605.5,294.5L607,295.2L608.5,295.7L610,296.2L611.4,296.6L612.9,296.9L614.4,297.1L615.9,297.3L617.4,297.5L618.8,297.6L620.3,297.8L621.8,297.9L623.3,298L624.7,298.1L626.1,298.3L627.5,298.5L628.9,298.8L630.2,299.1L631.6,299.5L633,299.9L634.4,300.5L635.8,301.2L637.2,302L638.7,303L640.1,304L641.5,305.1L643,306.3L644.4,307.5L645.9,308.7L647.3,310" fill="none" stroke="#CC9900" stroke-width="1.5"/>
<g fill="#CC9900"><polygon points="117,142.5 129.4,135.8 129.4,149.2"/><polygon points="130,143.1 142.4,136.4 142.4,149.8"/><polygon points="142.2,143.8 154.6,137.1 154.6,150.5"/><polygon points="154.8,145.1 167.2,138.4 167.2,151.8"/><polygon points="167.3,146.2 179.7,139.5 179.7,152.9"/><polygon points="180.5,147.8 192.9,141.1 192.9,154.5"/><polygon points="203.5,149.5 215.9,142.8 215.9,156.2"/><polygon points="217.5,150.9 229.9,144.2 229.9,157.6"/><polygon points="225.1,151.5 237.5,144.8 237.5,158.2"/><polygon points="245.3,153.5 257.7,146.8 257.7,160.2"/><polygon points="252.9,154.5 265.3,147.8 265.3,161.2"/><polygon points="273,156.9 285.4,150.2 285.4,163.6"/><polygon points="284.3,158.2 296.7,151.5 296.7,164.9"/><polygon points="305.9,161.6 318.3,154.9 318.3,168.3"/><polygon points="319.3,163.9 331.7,157.2 331.7,170.6"/><polygon points="328.1,167.2 340.5,160.5 340.5,173.9"/><polygon points="339.2,170.9 351.6,164.2 351.6,177.6"/><polygon points="355.2,175.9 367.6,169.2 367.6,182.6"/><polygon points="377.1,179.4 389.5,172.7 389.5,186.1"/><polygon points="381.5,183.2 393.9,176.5 393.9,189.9"/><polygon points="405.4,188.5 417.8,181.8 417.8,195.2"/><polygon points="413,193.4 425.4,186.7 425.4,200.1"/><polygon points="423.8,202.8 436.2,196.1 436.2,209.5"/><polygon points="440.5,210.9 452.9,204.2 452.9,217.6"/><polygon points="457.2,218.2 469.6,211.5 469.6,224.9"/><polygon points="471.8,226.1 484.2,219.4 484.2,232.8"/><polygon points="484.9,232 497.3,225.3 497.3,238.7"/><polygon points="499,239.3 511.4,232.6 511.4,246"/><polygon points="515.1,248.2 527.5,241.5 527.5,254.9"/><polygon points="536.8,258.9 549.2,252.2 549.2,265.6"/><polygon points="549.6,267.2 562,260.5 562,273.9"/><polygon points="565.3,274.6 577.7,267.9 577.7,281.3"/><polygon points="577.2,279.6 589.6,272.9 589.6,286.3"/><polygon points="586,286.4 598.4,279.7 598.4,293.1"/><polygon points="597.5,294.5 609.9,287.8 609.9,301.2"/><polygon points="615.3,298 627.7,291.3 627.7,304.7"/><polygon points="627.8,301.2 640.2,294.5 640.2,307.9"/><polygon points="639.3,310 651.7,303.3 651.7,316.7"/></g>
<path d="M125,86.6L126.4,86.7L127.9,86.7L129.3,86.8L130.8,86.9L132.2,86.9L133.7,87L135.1,87.1L136.6,87.1L138,87.2L139.4,87.3L140.7,87.3L142.1,87.4L143.4,87.5L144.8,87.5L146.1,87.6L147.5,87.7L148.8,87.8L150.2,87.9L151.6,88L153,88.2L154.4,88.3L155.8,88.5L157.2,88.6L158.6,88.8L160,88.9L161.4,89.1L162.8,89.2L164.2,89.3L165.6,89.5L167,89.6L168.4,89.7L169.7,89.8L171.1,89.9L172.5,90.1L173.9,90.2L175.3,90.3L176.8,90.4L178.2,90.6L179.7,90.7L181.2,90.9L182.6,91L184.1,91.2L185.6,91.3L187,91.5L188.5,91.6L189.9,91.7L191.4,91.8L192.8,91.9L194.2,92L195.7,92.1L197.1,92.2L198.6,92.3L200,92.3L201.4,92.4L202.9,92.5L204.3,92.5L205.8,92.6L207.2,92.7L208.6,92.7L210.1,92.8L211.5,92.9L212.9,93L214.3,93.1L215.7,93.2L217.1,93.3L218.5,93.4L219.9,93.5L221.3,93.6L222.7,93.7L224.1,93.8L225.5,93.9L226.8,94L228,94.1L229.3,94.2L230.6,94.4L231.8,94.5L233.1,94.6L234.5,94.7L236,94.9L237.4,95.1L238.9,95.2L240.3,95.4L241.8,95.6L243.2,95.7L244.6,95.9L246.1,96.1L247.5,96.3L249,96.4L250.4,96.6L251.9,96.8L253.3,97L254.6,97.2L255.8,97.3L257.1,97.5L258.4,97.7L259.6,97.8L260.9,98L262.3,98.2L263.8,98.4L265.2,98.6L266.6,98.8L268.1,99L269.5,99.2L270.9,99.4L272.4,99.6L273.8,99.8L275.3,99.9L276.7,100.1L278.1,100.3L279.6,100.5L281,100.7L282.4,100.9L283.8,101.1L285.2,101.2L286.6,101.4L288.1,101.6L289.5,101.8L290.9,102.1L292.3,102.3L293.7,102.6L295.2,102.8L296.6,103.1L298.1,103.4L299.5,103.8L300.9,104.1L302.4,104.4L303.8,104.7L305.3,105.1L306.7,105.4L308.1,105.7L309.6,106.1L311,106.4L312.5,106.7L313.9,107L315.4,107.3L316.9,107.6L318.4,107.9L319.9,108.2L321.3,108.5L322.8,108.8L324.3,109.2L325.8,109.6L327.3,110L328.8,110.5L330.2,111L331.7,111.5L333.2,112.1L334.6,112.6L336.1,113.1L337.5,113.6L338.9,114L340.3,114.4L341.6,114.8L343,115.3L344.4,115.7L345.8,116.2L347.2,116.8L348.7,117.4L350.1,118.1L351.6,118.8L353,119.5L354.5,120.2L355.9,120.9L357.4,121.5L358.8,122L360.3,122.4L361.7,122.7L363.2,122.8L364.7,122.8L366.1,122.6L367.6,122.4L369,122.1L370.5,121.8L372,121.6L373.4,121.4L374.9,121.3L376.3,121.4L377.8,121.8L379.3,122.3L380.7,123.1L382.2,124.3L383.6,125.8L385.1,127.7L386.6,130L388,132.5L389.5,134.8L391,136.8L392.5,138.3L394,139.4L395.5,140.3L397,140.8L398.5,141.2L400,141.3L401.4,141.3L402.9,141.2L404.4,141.1L405.9,140.9L407.4,140.9L408.9,140.9L410.4,141L411.9,141.4L413.4,142L414.7,142.7L415.9,143.6L417.2,144.6L418.5,145.7L419.7,146.9L421,148L422.4,149.2L423.7,150.4L425.1,151.5L426.4,152.6L427.8,153.7L429.1,154.8L430.4,155.8L431.8,156.9L433.2,158L434.6,159.1L436,160.2L437.4,161.3L438.8,162.4L440.1,163.5L441.5,164.6L442.9,165.6L444.3,166.6L445.7,167.6L447.1,168.6L448.5,169.5L449.9,170.4L451.3,171.3L452.7,172.1L454.1,172.9L455.5,173.6L456.9,174.4L458.2,175.1L459.6,175.7L461,176.4L462.4,177L463.8,177.6L465.2,178.2L466.7,178.8L468.1,179.4L469.6,180L471,180.6L472.5,181.2L474,181.9L475.4,182.7L476.9,183.5L478.3,184.4L479.8,185.4L481.3,186.5L482.7,187.7L484.2,188.9L485.6,190.2L487.1,191.5L488.5,192.8L490,194L491.4,195.2L492.9,196.3L494.3,197.2L495.7,198.1L497.1,198.9L498.5,199.6L499.9,200.2L501.4,200.8L502.8,201.4L504.2,202L505.6,202.6L507,203.2L508.5,203.9L509.9,204.5L511.4,205.2L512.9,205.9L514.3,206.6L515.8,207.3L517.2,208L518.7,208.7L520.2,209.3L521.6,209.9L523.1,210.4L524.5,210.9L526,211.3L527.4,211.7L528.9,212.1L530.3,212.5L531.8,212.9L533.2,213.3L534.7,213.9L536.1,214.4L537.6,215.1L539,215.9L540.5,216.8L541.9,217.8L543.4,219L544.8,220.4L546.2,221.9L547.6,223.6L549.1,225.3L550.5,227.2L551.9,229L553.3,230.9L554.8,232.7L556.2,234.5L557.6,236.1L559,237.6L560.5,238.9L561.9,240.1L563.3,241.2L564.7,242.2L566.2,243L567.6,243.7L569,244.3L570.4,244.8L571.9,245.2L573.3,245.5L574.8,245.7L576.3,245.9L577.8,246.1L579.2,246.3L580.7,246.5L582.2,246.9L583.7,247.3L585.2,248L586.7,248.8L588.1,249.9L589.6,251L591.1,252.3L592.5,253.6L594,255L595.4,256.3L596.9,257.7L598.3,259L599.8,260.3L601.2,261.6L602.6,262.8L604.1,263.9L605.5,265L607,266L608.5,267L610,267.9L611.4,268.7L612.9,269.4L614.4,270.1L615.9,270.7L617.4,271.3L618.8,271.7L620.3,272.2L621.8,272.6L623.3,272.9L624.7,273.2L626.1,273.4L627.5,273.7L628.9,273.9L630.2,274.2L631.6,274.6L633,275L634.4,275.4L635.8,276L637.2,276.7L638.7,277.5L640.1,278.4L641.5,279.4L643,280.5L644.4,281.5L645.9,282.7L647.3,283.8" fill="none" stroke="#00CBCC" stroke-width="1.5"/>
<g fill="#00CBCC"><polygon points="133,86.6 120.6,79.9 120.6,93.3"/><polygon points="146,87.2 133.6,80.5 133.6,93.9"/><polygon points="158.2,87.9 145.8,81.2 145.8,94.6"/><polygon points="170.8,89.2 158.4,82.5 158.4,95.9"/><polygon points="183.3,90.3 170.9,83.6 170.9,97"/><polygon points="196.5,91.6 184.1,84.9 184.1,98.3"/><polygon points="219.5,92.9 207.1,86.2 207.1,99.6"/><polygon points="233.5,93.9 221.1,87.2 221.1,100.6"/><polygon points="241.1,94.6 228.7,87.9 228.7,101.3"/><polygon points="261.3,97 248.9,90.3 248.9,103.7"/><polygon points="268.9,98 256.5,91.3 256.5,104.7"/><polygon points="289,100.7 276.6,94 276.6,107.4"/><polygon points="300.3,102.3 287.9,95.6 287.9,109"/><polygon points="321.9,107 309.5,100.3 309.5,113.7"/><polygon points="335.3,110 322.9,103.3 322.9,116.7"/><polygon points="344.1,113.1 331.7,106.4 331.7,119.8"/><polygon points="355.2,116.8 342.8,110.1 342.8,123.5"/><polygon points="371.2,122.8 358.8,116.1 358.8,129.5"/><polygon points="393.1,127.7 380.7,121 380.7,134.4"/><polygon points="397.5,134.8 385.1,128.1 385.1,141.5"/><polygon points="421.4,142 409,135.3 409,148.7"/><polygon points="429,148 416.6,141.3 416.6,154.7"/><polygon points="439.8,156.9 427.4,150.2 427.4,163.6"/><polygon points="456.5,169.5 444.1,162.8 444.1,176.2"/><polygon points="473.2,178.2 460.8,171.5 460.8,184.9"/><polygon points="487.8,185.4 475.4,178.7 475.4,192.1"/><polygon points="500.9,196.3 488.5,189.6 488.5,203"/><polygon points="515,203.2 502.6,196.5 502.6,209.9"/><polygon points="531.1,210.4 518.7,203.7 518.7,217.1"/><polygon points="552.8,220.4 540.4,213.7 540.4,227.1"/><polygon points="565.6,236.1 553.2,229.4 553.2,242.8"/><polygon points="581.3,245.5 568.9,238.8 568.9,252.2"/><polygon points="593.2,248 580.8,241.3 580.8,254.7"/><polygon points="602,255 589.6,248.3 589.6,261.7"/><polygon points="613.5,265 601.1,258.3 601.1,271.7"/><polygon points="631.3,272.9 618.9,266.2 618.9,279.6"/><polygon points="643.8,276 631.4,269.3 631.4,282.7"/><polygon points="655.3,283.8 642.9,277.1 642.9,290.5"/></g>
<path d="M125,27.5L126.4,27.6L127.9,27.6L129.3,27.7L130.8,27.7L132.2,27.8L133.7,27.9L135.1,27.9L136.6,28L138,28.1L139.4,28.2L140.7,28.3L142.1,28.4L143.4,28.5L144.8,28.6L146.1,28.7L147.5,28.8L148.8,28.9L150.2,29.1L151.6,29.3L153,29.5L154.4,29.6L155.8,29.8L157.2,30L158.6,30.2L160,30.4L161.4,30.6L162.8,30.8L164.2,31L165.6,31.1L167,31.3L168.4,31.4L169.7,31.6L171.1,31.7L172.5,31.9L173.9,32L175.3,32.2L176.8,32.4L178.2,32.6L179.7,32.9L181.2,33.1L182.6,33.3L184.1,33.6L185.6,33.8L187,34L188.5,34.2L189.9,34.4L191.4,34.5L192.8,34.7L194.2,34.8L195.7,34.9L197.1,35L198.6,35.1L200,35.2L201.4,35.3L202.9,35.3L204.3,35.4L205.8,35.5L207.2,35.6L208.6,35.7L210.1,35.8L211.5,35.9L212.9,36L214.3,36.2L215.7,36.3L217.1,36.4L218.5,36.6L219.9,36.8L221.3,37L222.7,37.1L224.1,37.3L225.5,37.5L226.8,37.7L228,37.8L229.3,38L230.6,38.2L231.8,38.3L233.1,38.5L234.5,38.7L236,38.8L237.4,39L238.9,39.1L240.3,39.3L241.8,39.4L243.2,39.6L244.6,39.8L246.1,39.9L247.5,40.1L249,40.3L250.4,40.5L251.9,40.7L253.3,40.9L254.6,41.1L255.8,41.3L257.1,41.5L258.4,41.8L259.6,42L260.9,42.2L262.3,42.4L263.8,42.6L265.2,42.8L266.6,43L268.1,43.2L269.5,43.4L270.9,43.6L272.4,43.7L273.8,43.9L275.3,44.1L276.7,44.3L278.1,44.5L279.6,44.7L281,44.9L282.4,45.1L283.8,45.4L285.2,45.6L286.6,45.9L288.1,46.1L289.5,46.4L290.9,46.6L292.3,46.9L293.7,47.1L295.2,47.4L296.6,47.6L298.1,47.9L299.5,48.1L300.9,48.3L302.4,48.6L303.8,48.8L305.3,49.1L306.7,49.4L308.1,49.7L309.6,50L311,50.3L312.5,50.6L313.9,51L315.4,51.4L316.9,51.8L318.4,52.3L319.9,52.8L321.3,53.2L322.8,53.7L324.3,54.2L325.8,54.7L327.3,55.2L328.8,55.7L330.2,56.2L331.7,56.7L333.2,57.2L334.6,57.7L336.1,58.3L337.5,58.9L338.9,59.5L340.3,60.1L341.6,60.8L343,61.5L344.4,62.2L345.8,62.9L347.2,63.6L348.7,64.3L350.1,65.1L351.6,65.8L353,66.5L354.5,67.1L355.9,67.8L357.4,68.4L358.8,68.9L360.3,69.4L361.7,69.9L363.2,70.3L364.7,70.7L366.1,71L367.6,71.3L369,71.6L370.5,71.9L372,72.3L373.4,72.7L374.9,73.2L376.3,73.9L377.8,74.6L379.3,75.5L380.7,76.6L382.2,77.9L383.6,79.4L385.1,81.1L386.6,83.1L388,85.1L389.5,86.9L391,88.5L392.5,89.7L394,90.6L395.5,91.3L397,91.8L398.5,92.1L400,92.3L401.4,92.4L402.9,92.5L404.4,92.6L405.9,92.7L407.4,93L408.9,93.3L410.4,93.9L411.9,94.7L413.4,95.7L414.7,96.8L415.9,98L417.2,99.4L418.5,100.7L419.7,101.9L421,103L422.4,103.9L423.7,104.7L425.1,105.2L426.4,105.7L427.8,106.1L429.1,106.5L430.4,106.9L431.8,107.4L433.2,108L434.6,108.8L436,109.6L437.4,110.6L438.8,111.6L440.1,112.7L441.5,113.7L442.9,114.8L444.3,115.9L445.7,117L447.1,118L448.5,119L449.9,119.9L451.3,120.7L452.7,121.5L454.1,122.3L455.5,123L456.9,123.8L458.2,124.5L459.6,125.2L461,126L462.4,126.8L463.8,127.7L465.2,128.7L466.7,129.8L468.1,131L469.6,132.2L471,133.4L472.5,134.7L474,136L475.4,137.2L476.9,138.3L478.3,139.4L479.8,140.4L481.3,141.3L482.7,142.1L484.2,142.8L485.6,143.5L487.1,144.2L488.5,145L490,145.8L491.4,146.7L492.9,147.8L494.3,149L495.7,150.3L497.1,151.7L498.5,153.3L499.9,154.8L501.4,156.4L502.8,158L504.2,159.5L505.6,161L507,162.4L508.5,163.7L509.9,165L511.4,166.1L512.9,167.1L514.3,168.1L515.8,168.9L517.2,169.8L518.7,170.5L520.2,171.3L521.6,172L523.1,172.7L524.5,173.4L526,174.1L527.4,174.8L528.9,175.4L530.3,176.1L531.8,176.8L533.2,177.5L534.7,178.2L536.1,179L537.6,179.7L539,180.5L540.5,181.2L541.9,182L543.4,182.9L544.8,183.7L546.2,184.6L547.6,185.4L549.1,186.3L550.5,187.3L551.9,188.2L553.3,189.2L554.8,190.2L556.2,191.2L557.6,192.2L559,193.3L560.5,194.3L561.9,195.4L563.3,196.6L564.7,197.7L566.2,198.9L567.6,200.2L569,201.5L570.4,202.8L571.9,204.2L573.3,205.7L574.8,207.3L576.3,208.9L577.8,210.6L579.2,212.2L580.7,213.8L582.2,215.4L583.7,216.8L585.2,218.2L586.7,219.4L588.1,220.5L589.6,221.6L591.1,222.6L592.5,223.5L594,224.5L595.4,225.5L596.9,226.5L598.3,227.5L599.8,228.5L601.2,229.4L602.6,230.3L604.1,231.2L605.5,232L607,232.7L608.5,233.4L610,234L611.4,234.6L612.9,235.1L614.4,235.7L615.9,236.2L617.4,236.7L618.8,237.3L620.3,237.9L621.8,238.6L623.3,239.3L624.7,240.1L626.1,240.9L627.5,241.8L628.9,242.7L630.2,243.7L631.6,244.8L633,245.8L634.4,246.9L635.8,248L637.2,249.1L638.7,250.3L640.1,251.4L641.5,252.6L643,253.7L644.4,254.9L645.9,256L647.3,257.2" fill="none" stroke="#7D4E4E" stroke-width="1.5"/>
<g fill="#7D4E4E"><polygon points="125,21.2 130.9,24.3 130.9,30.6 125,33.8 119.1,30.7 119.1,24.3"/><polygon points="138,21.8 143.9,24.9 143.9,31.2 138,34.4 132.1,31.3 132.1,24.9"/><polygon points="150.2,22.8 156.1,25.9 156.1,32.2 150.2,35.4 144.3,32.3 144.3,25.9"/><polygon points="162.8,24.5 168.7,27.6 168.7,34 162.8,37.1 156.9,34 156.9,27.6"/><polygon points="175.3,25.9 181.2,29.1 181.2,35.4 175.3,38.5 169.4,35.4 169.4,29.1"/><polygon points="188.5,27.9 194.4,31.1 194.4,37.4 188.5,40.5 182.6,37.4 182.6,31.1"/><polygon points="211.5,29.6 217.4,32.8 217.4,39 211.5,42.2 205.6,39.1 205.6,32.8"/><polygon points="225.5,31.2 231.4,34.4 231.4,40.6 225.5,43.8 219.6,40.7 219.6,34.4"/><polygon points="233.1,32.2 239,35.4 239,41.6 233.1,44.8 227.2,41.7 227.2,35.4"/><polygon points="253.3,34.6 259.2,37.8 259.2,44 253.3,47.2 247.4,44.1 247.4,37.8"/><polygon points="260.9,35.9 266.8,39.1 266.8,45.4 260.9,48.5 255,45.4 255,39.1"/><polygon points="281,38.6 286.9,41.8 286.9,48 281,51.2 275.1,48.1 275.1,41.8"/><polygon points="292.3,40.6 298.2,43.8 298.2,50 292.3,53.2 286.4,50.1 286.4,43.8"/><polygon points="313.9,44.7 319.8,47.9 319.8,54.1 313.9,57.3 308,54.2 308,47.9"/><polygon points="327.3,48.9 333.2,52.1 333.2,58.4 327.3,61.5 321.4,58.4 321.4,52.1"/><polygon points="336.1,52 342,55.1 342,61.4 336.1,64.6 330.2,61.5 330.2,55.1"/><polygon points="347.2,57.3 353.1,60.5 353.1,66.8 347.2,69.9 341.3,66.8 341.3,60.5"/><polygon points="363.2,64 369.1,67.1 369.1,73.4 363.2,76.6 357.3,73.5 357.3,67.1"/><polygon points="385.1,74.8 391,77.9 391,84.2 385.1,87.4 379.2,84.2 379.2,77.9"/><polygon points="389.5,80.6 395.4,83.8 395.4,90.1 389.5,93.2 383.6,90.1 383.6,83.8"/><polygon points="413.4,89.4 419.3,92.5 419.3,98.8 413.4,102 407.5,98.9 407.5,92.5"/><polygon points="421,96.7 426.9,99.8 426.9,106.2 421,109.3 415.1,106.2 415.1,99.8"/><polygon points="431.8,101.1 437.7,104.2 437.7,110.6 431.8,113.7 425.9,110.6 425.9,104.2"/><polygon points="448.5,112.7 454.4,115.8 454.4,122.2 448.5,125.3 442.6,122.2 442.6,115.8"/><polygon points="465.2,122.4 471.1,125.5 471.1,131.8 465.2,135 459.3,131.8 459.3,125.5"/><polygon points="479.8,134.1 485.7,137.2 485.7,143.6 479.8,146.7 473.9,143.6 473.9,137.2"/><polygon points="492.9,141.5 498.8,144.7 498.8,151 492.9,154.1 487,151 487,144.7"/><polygon points="507,156.1 512.9,159.2 512.9,165.6 507,168.7 501.1,165.6 501.1,159.2"/><polygon points="523.1,166.4 529,169.5 529,175.8 523.1,179 517.2,175.8 517.2,169.5"/><polygon points="544.8,177.4 550.7,180.5 550.7,186.8 544.8,190 538.9,186.8 538.9,180.5"/><polygon points="557.6,185.9 563.5,189 563.5,195.3 557.6,198.5 551.7,195.3 551.7,189"/><polygon points="573.3,199.4 579.2,202.5 579.2,208.8 573.3,212 567.4,208.8 567.4,202.5"/><polygon points="585.2,211.9 591.1,215 591.1,221.3 585.2,224.5 579.3,221.3 579.3,215"/><polygon points="594,218.2 599.9,221.3 599.9,227.7 594,230.8 588.1,227.7 588.1,221.3"/><polygon points="605.5,225.7 611.4,228.8 611.4,235.2 605.5,238.3 599.6,235.2 599.6,228.8"/><polygon points="623.3,233 629.2,236.2 629.2,242.5 623.3,245.6 617.4,242.5 617.4,236.2"/><polygon points="635.8,241.7 641.7,244.8 641.7,251.2 635.8,254.3 629.9,251.2 629.9,244.8"/><polygon points="647.3,250.9 653.2,254 653.2,260.3 647.3,263.5 641.4,260.3 641.4,254"/></g>
<g stroke="#000" stroke-width="1.5" fill="none" stroke-linecap="butt">
<rect x="70.2" y="8.2" width="613.5" height="460.5"/>
<path d="M70.2,435.71h4.4M70.2,402.82h9.6M70.2,369.93h4.4M70.2,337.04h9.6M70.2,304.15h4.4M70.2,271.26h9.6M70.2,238.37h4.4M70.2,205.48h9.6M70.2,172.59h4.4M70.2,139.70h9.6M70.2,106.81h4.4M70.2,73.92h9.6M70.2,41.03h4.4M106.28,468.6v-4.4M142.35,468.6v-9.6M178.43,468.6v-4.4M214.50,468.6v-9.6M250.57,468.6v-4.4M286.65,468.6v-9.6M322.73,468.6v-4.4M358.80,468.6v-9.6M394.88,468.6v-4.4M430.95,468.6v-9.6M467.03,468.6v-4.4M503.10,468.6v-9.6M539.18,468.6v-4.4M575.25,468.6v-9.6M611.33,468.6v-4.4M647.40,468.6v-9.6"/>
</g>
<g font-size="19.6">
<text x="59.8" y="475" text-anchor="end" textLength="10.3" lengthAdjust="spacingAndGlyphs">0</text>
<text x="59.8" y="409.2" text-anchor="end" textLength="20.6" lengthAdjust="spacingAndGlyphs">50</text>
<text x="59.8" y="343.4" text-anchor="end" textLength="30.9" lengthAdjust="spacingAndGlyphs">100</text>
<text x="59.8" y="277.7" text-anchor="end" textLength="30.9" lengthAdjust="spacingAndGlyphs">150</text>
<text x="59.8" y="211.9" text-anchor="end" textLength="30.9" lengthAdjust="spacingAndGlyphs">200</text>
<text x="59.8" y="146.1" text-anchor="end" textLength="30.9" lengthAdjust="spacingAndGlyphs">250</text>
<text x="59.8" y="80.3" text-anchor="end" textLength="30.9" lengthAdjust="spacingAndGlyphs">300</text>
<text x="59.8" y="14.5" text-anchor="end" textLength="30.9" lengthAdjust="spacingAndGlyphs">350</text>
<text x="70.2" y="493.9" text-anchor="middle" textLength="25.7" lengthAdjust="spacingAndGlyphs">0.0</text>
<text x="142.4" y="493.9" text-anchor="middle" textLength="25.7" lengthAdjust="spacingAndGlyphs">0.5</text>
<text x="214.5" y="493.9" text-anchor="middle" textLength="25.7" lengthAdjust="spacingAndGlyphs">1.0</text>
<text x="286.7" y="493.9" text-anchor="middle" textLength="25.7" lengthAdjust="spacingAndGlyphs">1.5</text>
<text x="358.8" y="493.9" text-anchor="middle" textLength="25.7" lengthAdjust="spacingAndGlyphs">2.0</text>
<text x="430.9" y="493.9" text-anchor="middle" textLength="25.7" lengthAdjust="spacingAndGlyphs">2.5</text>
<text x="503.1" y="493.9" text-anchor="middle" textLength="25.7" lengthAdjust="spacingAndGlyphs">3.0</text>
<text x="575.3" y="493.9" text-anchor="middle" textLength="25.7" lengthAdjust="spacingAndGlyphs">3.5</text>
<text x="647.4" y="493.9" text-anchor="middle" textLength="25.7" lengthAdjust="spacingAndGlyphs">4.0</text>
</g>
<text x="377.4" y="531" font-size="24.8" text-anchor="middle" textLength="161.5" lengthAdjust="spacingAndGlyphs">Thickness(mm)</text>
<text transform="translate(18.2,238.6) rotate(-90)" font-size="25.6" text-anchor="middle" textLength="161" lengthAdjust="spacingAndGlyphs">Temperature(°C)</text>
<g font-size="16.8" stroke="#000" stroke-width="0.25">
<text x="72" y="22.7" textLength="236.3" lengthAdjust="spacingAndGlyphs">y = -0.127x<tspan font-size="12.2" dy="-6.2">2</tspan><tspan dy="6.2"> + 0.1945x + 21.873</tspan></text>
<text x="80.6" y="81.6" textLength="245.4" lengthAdjust="spacingAndGlyphs">y = -1.8819x<tspan font-size="12.2" dy="-6.2">2</tspan><tspan dy="6.2"> + 0.7134x + 65.624</tspan></text>
<text x="73.8" y="136.2" textLength="252.4" lengthAdjust="spacingAndGlyphs">y = -4.1044x<tspan font-size="12.2" dy="-6.2">2</tspan><tspan dy="6.2"> + 3.4313x + 109.85</tspan></text>
<text x="73" y="192.2" textLength="254.3" lengthAdjust="spacingAndGlyphs">y = -6.1578x<tspan font-size="12.2" dy="-6.2">2</tspan><tspan dy="6.2"> + 5.1899x + 154.79</tspan></text>
<text x="74.8" y="252" textLength="233.5" lengthAdjust="spacingAndGlyphs">y = -8.4411x<tspan font-size="12.2" dy="-6.2">2</tspan><tspan dy="6.2"> + 7.816x + 200.1</tspan></text>
<text x="77" y="312.2" textLength="253" lengthAdjust="spacingAndGlyphs">y = -10.393x<tspan font-size="12.2" dy="-6.2">2</tspan><tspan dy="6.2"> + 9.0158x + 245.38</tspan></text>
<text x="75.6" y="372.3" textLength="255.4" lengthAdjust="spacingAndGlyphs">y = -12.328x2 + 10.492x + 288.53</text>
<text x="77.4" y="425.8" textLength="246.5" lengthAdjust="spacingAndGlyphs">y = -14.58x2 + 13.567x + 331.38</text>
</g>
<rect x="533.5" y="8" width="149.1" height="165.5" fill="#fff" stroke="#6a6a6a" stroke-width="1.0"/>
<g font-size="17.2" stroke-width="0.2">
<path d="M535.7,19.8H576" stroke="#515151" stroke-width="1.6"/>
<g fill="#515151"><rect x="550.9" y="14.7" width="10.2" height="10.2"/></g>
<text stroke="#000" x="580.8" y="25.5" textLength="89.8" lengthAdjust="spacingAndGlyphs">Heat to 20°C</text>
<path d="M535.7,40.1H576" stroke="#F14040" stroke-width="1.6"/>
<g fill="#F14040"><circle cx="556" cy="40.1" r="5.6"/></g>
<text stroke="#000" x="580.8" y="45.8" textLength="89.8" lengthAdjust="spacingAndGlyphs">Heat to 40°C</text>
<path d="M535.7,60.5H576" stroke="#1A6FDF" stroke-width="1.6"/>
<g fill="#1A6FDF"><polygon points="549.4,64.5 562.6,64.5 556,53.5"/></g>
<text stroke="#000" x="580.8" y="66.2" textLength="89.8" lengthAdjust="spacingAndGlyphs">Heat to 60°C</text>
<path d="M535.7,80.8H576" stroke="#37AD6B" stroke-width="1.6"/>
<g fill="#37AD6B"><polygon points="549.4,76.8 562.6,76.8 556,87.8"/></g>
<text stroke="#000" x="580.8" y="86.5" textLength="89.8" lengthAdjust="spacingAndGlyphs">Heat to 80°C</text>
<path d="M535.7,101.1H576" stroke="#B177DE" stroke-width="1.6"/>
<g fill="#B177DE"><polygon points="549.3,101.1 556,94.4 562.7,101.1 556,107.8"/></g>
<text stroke="#000" x="580.8" y="106.8" textLength="98.4" lengthAdjust="spacingAndGlyphs">Heat to 120°C</text>
<path d="M535.7,121.4H576" stroke="#CC9900" stroke-width="1.6"/>
<g fill="#CC9900"><polygon points="548.4,121.4 560.2,115 560.2,127.8"/></g>
<text stroke="#000" x="580.8" y="127.1" textLength="98.4" lengthAdjust="spacingAndGlyphs">Heat to 140°C</text>
<path d="M535.7,141.8H576" stroke="#00CBCC" stroke-width="1.6"/>
<g fill="#00CBCC"><polygon points="563.6,141.8 551.8,135.4 551.8,148.2"/></g>
<text stroke="#000" x="580.8" y="147.5" textLength="98.4" lengthAdjust="spacingAndGlyphs">Heat to 160°C</text>
<path d="M535.7,162.1H576" stroke="#7D4E4E" stroke-width="1.6"/>
<g fill="#7D4E4E"><polygon points="556,155.8 561.9,159 561.9,165.3 556,168.4 550.1,165.3 550.1,159"/></g>
<text stroke="#000" x="580.8" y="167.8" textLength="98.4" lengthAdjust="spacingAndGlyphs">Heat to 180°C</text>
</g>
<rect x="70.2" y="8.2" width="613.5" height="460.5" fill="none" stroke="#000" stroke-width="1.5"/>
<text class="sans" x="359.6" y="608.4" font-size="24" text-anchor="middle" textLength="30.2" lengthAdjust="spacingAndGlyphs" stroke="#000" stroke-width="0.2">(c)</text>
</g>
<g id="chart-d">
<path d="M124.7,1108L126,1108L127.4,1108L128.7,1108L130,1108L131.4,1108L132.7,1108L134.1,1108L135.5,1108L137,1108L138.4,1108L139.8,1108L141.2,1108L142.6,1108L144,1108L145.5,1108L146.9,1108L148.3,1108L149.6,1108L150.9,1108L152.2,1108L153.5,1108L154.8,1108L156.1,1108L157.4,1108L158.7,1108L160,1108L161.3,1108L162.6,1108L163.9,1108L165.4,1108L166.8,1108L168.3,1108L169.8,1108L171.2,1108L172.7,1108L174.1,1108L175.6,1108L177.1,1108L178.5,1108L180,1108L181.3,1108L182.6,1108L183.8,1108L185.1,1108L186.4,1108L187.7,1108L189.1,1108L190.4,1108L191.8,1108L193.1,1108L194.5,1108L195.9,1108L197.2,1108L198.6,1108L199.9,1108L201.3,1108L202.7,1108L204,1108L205.4,1108L206.8,1108L208.1,1108L209.5,1108L210.8,1108L212.2,1108L213.6,1108L215,1108L216.4,1108L217.8,1108L219.1,1108L220.5,1108L221.9,1108L223.3,1108L224.7,1108L226.1,1108L227.5,1108L228.9,1108L230.3,1108L231.7,1108L233.1,1108L234.5,1108L235.9,1108L237.2,1108L238.5,1108L239.8,1108L241,1108L242.3,1108L243.6,1108L245,1108L246.5,1108L247.9,1108L249.3,1108L250.7,1108L252.2,1108L253.6,1108L255,1108L256.4,1108L257.9,1108L259.3,1108L260.7,1108L262.1,1108L263.4,1108L264.8,1108L266.2,1108L267.5,1108L268.9,1108L270.2,1108L271.6,1108L272.9,1108L274.3,1108L275.6,1108L277,1108L278.3,1108L279.6,1108L280.9,1108L282.2,1108L283.4,1108L284.7,1108L286,1108L287.3,1108L288.7,1108L290,1108L291.4,1108L292.8,1108L294.1,1108L295.5,1108L296.9,1108L298.3,1108L299.6,1108L301,1108L302.4,1108L303.8,1108L305.2,1108L306.6,1108L308,1108L309.4,1108L310.8,1108L312.2,1108L313.6,1108L314.9,1108L316.3,1108L317.7,1108L319.1,1108L320.4,1108L321.8,1108L323.2,1108L324.5,1108L325.9,1108L327.2,1108L328.6,1108L329.9,1108L331.2,1108L332.6,1108L334,1108L335.4,1108L336.8,1108L338.1,1108L339.5,1108L340.9,1108L342.3,1108L343.7,1108L345.1,1108L346.6,1108L348,1108L349.4,1108L350.8,1108L352.2,1108L353.7,1108L355.1,1108L356.6,1108L358,1108L359.5,1108L360.9,1108L362.4,1108L363.8,1108L365.3,1108L366.7,1108L368.2,1108L369.6,1108L371.1,1108L372.5,1108L373.8,1108L375.2,1108L376.6,1108L377.9,1108L379.3,1108L380.6,1108L382,1108L383.4,1108L384.8,1108L386.2,1108L387.7,1108L389.1,1108L390.5,1108L391.9,1108L393.3,1108L394.7,1108L396,1108L397.4,1108L398.8,1108L400.2,1108L401.7,1108L403.2,1108L404.6,1108L406.1,1108L407.6,1108L409.1,1108L410.5,1108L412,1108L413.5,1108L414.9,1108L416.4,1108L417.8,1108L419.2,1108L420.6,1108L422.1,1108L423.5,1108L424.8,1108L426.1,1108L427.5,1108L428.8,1108L430.1,1108L431.5,1108L432.8,1108L434.1,1108L435.6,1108L437,1108L438.5,1108L440,1108L441.4,1108L442.9,1108L444.3,1108L445.8,1108L447.2,1108L448.5,1108L449.9,1108L451.2,1108L452.6,1108L454,1108L455.4,1108L456.9,1108L458.3,1108L459.7,1108L461.1,1108L462.5,1108L464,1108L465.4,1108L466.8,1108L468.2,1108L469.5,1108L470.9,1108L472.2,1108L473.6,1108L474.9,1108L476.3,1108L477.6,1108L479,1108L480.5,1108L481.9,1108L483.4,1108L484.8,1108L486.3,1108L487.7,1108L489.2,1108L490.6,1108L491.9,1108L493.3,1108L494.7,1108L496.1,1108L497.4,1108L498.8,1108L500.2,1108L501.6,1108L502.9,1108L504.3,1108L505.7,1108L507.1,1108L508.5,1108L509.9,1108L511.3,1108L512.7,1108L514.1,1108L515.4,1108L516.8,1108L518.2,1108L519.6,1108L520.9,1108L522.3,1108L523.7,1108L525.1,1108L526.4,1108L527.8,1108L529.2,1108L530.6,1108L532,1108L533.4,1108L534.9,1108L536.3,1108L537.7,1108L539.1,1108L540.5,1108L542,1108L543.4,1108L544.8,1108L546.2,1108L547.7,1108L549.1,1108L550.6,1108L552.1,1108L553.6,1108L555,1108L556.5,1108L558,1108L559.5,1108L561,1108L562.4,1108L563.9,1108L565.3,1108L566.7,1108L568.1,1108L569.6,1108L571,1108L572.3,1108L573.6,1108L574.9,1108L576.2,1108L577.6,1108L578.9,1108L580.2,1108L581.5,1108L582.9,1108L584.2,1108L585.6,1108L587,1108L588.3,1108L589.7,1108L591,1108L592.4,1108L593.8,1108L595.1,1108L596.5,1108L597.8,1108L599.2,1108L600.5,1108L601.9,1108L603.3,1108L604.7,1108L606.1,1108L607.5,1108L608.9,1108L610.2,1108L611.6,1108L613,1108L614.4,1108L615.8,1108L617.2,1108L618.7,1108L620.2,1108L621.7,1108.1L623.1,1108.1L624.6,1108L626.1,1108L627.5,1107.9L628.9,1107.9L630.2,1107.8L631.6,1107.7L633,1107.7L634.4,1107.7L635.7,1107.8L637.1,1108L638.2,1108.2L639.4,1108.4L640.5,1108.7L641.6,1109" fill="none" stroke="#515151" stroke-width="1.3"/>
<g fill="#515151"><rect x="119.7" y="1103" width="10.1" height="10.1"/><rect x="127.7" y="1103" width="10.1" height="10.1"/><rect x="143.3" y="1103" width="10.1" height="10.1"/><rect x="151.1" y="1103" width="10.1" height="10.1"/><rect x="158.9" y="1103" width="10.1" height="10.1"/><rect x="175" y="1103" width="10.1" height="10.1"/><rect x="182.7" y="1103" width="10.1" height="10.1"/><rect x="196.3" y="1103" width="10.1" height="10.1"/><rect x="207.2" y="1103" width="10.1" height="10.1"/><rect x="218.3" y="1103" width="10.1" height="10.1"/><rect x="230.9" y="1103" width="10.1" height="10.1"/><rect x="238.6" y="1103" width="10.1" height="10.1"/><rect x="254.3" y="1103" width="10.1" height="10.1"/><rect x="261.2" y="1103" width="10.1" height="10.1"/><rect x="273.3" y="1103" width="10.1" height="10.1"/><rect x="282.3" y="1103" width="10.1" height="10.1"/><rect x="296" y="1103" width="10.1" height="10.1"/><rect x="305.8" y="1103" width="10.1" height="10.1"/><rect x="316.8" y="1103" width="10.1" height="10.1"/><rect x="327.6" y="1103" width="10.1" height="10.1"/><rect x="338.7" y="1103" width="10.1" height="10.1"/><rect x="350.1" y="1103" width="10.1" height="10.1"/><rect x="366.1" y="1103" width="10.1" height="10.1"/><rect x="377" y="1103" width="10.1" height="10.1"/><rect x="385.5" y="1103" width="10.1" height="10.1"/><rect x="395.2" y="1103" width="10.1" height="10.1"/><rect x="408.5" y="1103" width="10.1" height="10.1"/><rect x="418.5" y="1103" width="10.1" height="10.1"/><rect x="429.1" y="1103" width="10.1" height="10.1"/><rect x="440.8" y="1103" width="10.1" height="10.1"/><rect x="447.6" y="1103" width="10.1" height="10.1"/><rect x="461.8" y="1103" width="10.1" height="10.1"/><rect x="474" y="1103" width="10.1" height="10.1"/><rect x="484.2" y="1103" width="10.1" height="10.1"/><rect x="500.7" y="1103" width="10.1" height="10.1"/><rect x="507.7" y="1103" width="10.1" height="10.1"/><rect x="522.8" y="1103" width="10.1" height="10.1"/><rect x="527" y="1103" width="10.1" height="10.1"/><rect x="544.1" y="1103" width="10.1" height="10.1"/><rect x="556" y="1103" width="10.1" height="10.1"/><rect x="566" y="1103" width="10.1" height="10.1"/><rect x="576.5" y="1103" width="10.1" height="10.1"/><rect x="587.4" y="1103" width="10.1" height="10.1"/><rect x="596.9" y="1103" width="10.1" height="10.1"/><rect x="612.2" y="1103" width="10.1" height="10.1"/><rect x="621.1" y="1103" width="10.1" height="10.1"/><rect x="632.1" y="1103" width="10.1" height="10.1"/><rect x="636.6" y="1104" width="10.1" height="10.1"/></g>
<path d="M124.7,1052.6L126,1052.7L127.4,1052.7L128.7,1052.8L130,1052.8L131.4,1052.9L132.7,1052.9L134.1,1052.9L135.5,1052.9L137,1052.9L138.4,1052.9L139.8,1052.9L141.2,1052.9L142.6,1052.9L144,1052.9L145.5,1052.9L146.9,1052.9L148.3,1052.9L149.6,1052.9L150.9,1053L152.2,1053.1L153.5,1053.1L154.8,1053.2L156.1,1053.2L157.4,1053.2L158.7,1053.2L160,1053.2L161.3,1053.2L162.6,1053.2L163.9,1053.2L165.4,1053.2L166.8,1053.2L168.3,1053.2L169.8,1053.2L171.2,1053.2L172.7,1053.3L174.1,1053.3L175.6,1053.3L177.1,1053.4L178.5,1053.4L180,1053.5L181.3,1053.6L182.6,1053.6L183.8,1053.7L185.1,1053.7L186.4,1053.8L187.7,1053.8L189.1,1053.8L190.4,1053.9L191.8,1053.9L193.1,1053.9L194.5,1053.9L195.9,1053.9L197.2,1053.9L198.6,1054L199.9,1054L201.3,1054L202.7,1054L204,1054.1L205.4,1054.1L206.8,1054.1L208.1,1054.2L209.5,1054.2L210.8,1054.3L212.2,1054.3L213.6,1054.3L215,1054.4L216.4,1054.4L217.8,1054.4L219.1,1054.5L220.5,1054.5L221.9,1054.6L223.3,1054.6L224.7,1054.7L226.1,1054.7L227.5,1054.8L228.9,1054.9L230.3,1054.9L231.7,1055L233.1,1055.1L234.5,1055.1L235.9,1055.2L237.2,1055.3L238.5,1055.3L239.8,1055.4L241,1055.4L242.3,1055.5L243.6,1055.5L245,1055.6L246.5,1055.6L247.9,1055.7L249.3,1055.7L250.7,1055.8L252.2,1055.9L253.6,1056L255,1056.1L256.4,1056.2L257.9,1056.3L259.3,1056.4L260.7,1056.5L262.1,1056.7L263.4,1056.8L264.8,1056.9L266.2,1057L267.5,1057.1L268.9,1057.1L270.2,1057.2L271.6,1057.2L272.9,1057.2L274.3,1057.3L275.6,1057.3L277,1057.3L278.3,1057.4L279.6,1057.5L280.9,1057.5L282.2,1057.6L283.4,1057.7L284.7,1057.8L286,1057.9L287.3,1058L288.7,1058.1L290,1058.1L291.4,1058.2L292.8,1058.3L294.1,1058.3L295.5,1058.4L296.9,1058.4L298.3,1058.5L299.6,1058.6L301,1058.7L302.4,1058.8L303.8,1059L305.2,1059.1L306.6,1059.3L308,1059.4L309.4,1059.6L310.8,1059.7L312.2,1059.8L313.6,1059.9L314.9,1060L316.3,1060.1L317.7,1060.2L319.1,1060.3L320.4,1060.4L321.8,1060.5L323.2,1060.6L324.5,1060.7L325.9,1060.8L327.2,1060.9L328.6,1061L329.9,1061.1L331.2,1061.3L332.6,1061.4L334,1061.5L335.4,1061.7L336.8,1061.9L338.1,1062L339.5,1062.2L340.9,1062.3L342.3,1062.5L343.7,1062.6L345.1,1062.7L346.6,1062.9L348,1063L349.4,1063.1L350.8,1063.2L352.2,1063.3L353.7,1063.4L355.1,1063.5L356.6,1063.6L358,1063.7L359.5,1063.8L360.9,1063.9L362.4,1064L363.8,1064.1L365.3,1064.3L366.7,1064.4L368.2,1064.6L369.6,1064.7L371.1,1064.9L372.5,1065.1L373.8,1065.3L375.2,1065.5L376.6,1065.7L377.9,1065.9L379.3,1066L380.6,1066.2L382,1066.4L383.4,1066.6L384.8,1066.7L386.2,1066.9L387.7,1067L389.1,1067.1L390.5,1067.3L391.9,1067.5L393.3,1067.6L394.7,1067.8L396,1068L397.4,1068.2L398.8,1068.4L400.2,1068.7L401.7,1069L403.2,1069.3L404.6,1069.6L406.1,1069.9L407.6,1070.3L409.1,1070.6L410.5,1070.8L412,1071.1L413.5,1071.3L414.9,1071.5L416.4,1071.6L417.8,1071.7L419.2,1071.8L420.6,1071.9L422.1,1072.1L423.5,1072.2L424.8,1072.4L426.1,1072.5L427.5,1072.7L428.8,1072.9L430.1,1073.1L431.5,1073.3L432.8,1073.5L434.1,1073.7L435.6,1073.9L437,1074L438.5,1074.2L440,1074.3L441.4,1074.5L442.9,1074.6L444.3,1074.8L445.8,1075.1L447.2,1075.4L448.5,1075.7L449.9,1076L451.2,1076.3L452.6,1076.6L454,1076.9L455.4,1077.1L456.9,1077.3L458.3,1077.5L459.7,1077.7L461.1,1077.8L462.5,1078L464,1078.1L465.4,1078.3L466.8,1078.4L468.2,1078.5L469.5,1078.7L470.9,1078.9L472.2,1079L473.6,1079.2L474.9,1079.3L476.3,1079.5L477.6,1079.7L479,1079.8L480.5,1079.9L481.9,1080.1L483.4,1080.2L484.8,1080.3L486.3,1080.5L487.7,1080.6L489.2,1080.7L490.6,1080.8L491.9,1080.9L493.3,1081L494.7,1081.1L496.1,1081.2L497.4,1081.4L498.8,1081.5L500.2,1081.7L501.6,1081.8L502.9,1082L504.3,1082.2L505.7,1082.4L507.1,1082.6L508.5,1082.9L509.9,1083.1L511.3,1083.4L512.7,1083.6L514.1,1083.8L515.4,1084L516.8,1084.1L518.2,1084.2L519.6,1084.4L520.9,1084.5L522.3,1084.7L523.7,1084.8L525.1,1085L526.4,1085.2L527.8,1085.4L529.2,1085.7L530.6,1085.9L532,1086.2L533.4,1086.4L534.9,1086.6L536.3,1086.8L537.7,1086.9L539.1,1087L540.5,1087.1L542,1087.1L543.4,1087.2L544.8,1087.2L546.2,1087.3L547.7,1087.3L549.1,1087.4L550.6,1087.5L552.1,1087.6L553.6,1087.7L555,1087.8L556.5,1087.9L558,1088L559.5,1088.2L561,1088.3L562.4,1088.4L563.9,1088.6L565.3,1088.7L566.7,1088.8L568.1,1089L569.6,1089.1L571,1089.2L572.3,1089.3L573.6,1089.4L574.9,1089.5L576.2,1089.6L577.6,1089.7L578.9,1089.8L580.2,1089.9L581.5,1090L582.9,1090.1L584.2,1090.2L585.6,1090.3L587,1090.4L588.3,1090.5L589.7,1090.7L591,1090.8L592.4,1090.9L593.8,1091L595.1,1091.2L596.5,1091.3L597.8,1091.4L599.2,1091.5L600.5,1091.7L601.9,1091.8L603.3,1091.9L604.7,1092L606.1,1092.2L607.5,1092.3L608.9,1092.4L610.2,1092.5L611.6,1092.6L613,1092.7L614.4,1092.8L615.8,1092.9L617.2,1093L618.7,1093.1L620.2,1093.2L621.7,1093.3L623.1,1093.4L624.6,1093.4L626.1,1093.5L627.5,1093.6L628.9,1093.6L630.2,1093.7L631.6,1093.7L633,1093.8L634.4,1093.9L635.7,1094L637.1,1094.1L638.2,1094.2L639.4,1094.4L640.5,1094.5L641.6,1094.7" fill="none" stroke="#F14040" stroke-width="1.3"/>
<g fill="#F14040"><circle cx="124.7" cy="1052.6" r="5.5"/><circle cx="132.7" cy="1052.9" r="5.5"/><circle cx="148.3" cy="1052.9" r="5.5"/><circle cx="156.1" cy="1053.2" r="5.5"/><circle cx="163.9" cy="1053.2" r="5.5"/><circle cx="180" cy="1053.5" r="5.5"/><circle cx="187.7" cy="1053.8" r="5.5"/><circle cx="201.3" cy="1054" r="5.5"/><circle cx="212.2" cy="1054.3" r="5.5"/><circle cx="223.3" cy="1054.6" r="5.5"/><circle cx="235.9" cy="1055.2" r="5.5"/><circle cx="243.6" cy="1055.5" r="5.5"/><circle cx="259.3" cy="1056.4" r="5.5"/><circle cx="266.2" cy="1057" r="5.5"/><circle cx="278.3" cy="1057.4" r="5.5"/><circle cx="287.3" cy="1058" r="5.5"/><circle cx="301" cy="1058.7" r="5.5"/><circle cx="310.8" cy="1059.7" r="5.5"/><circle cx="321.8" cy="1060.5" r="5.5"/><circle cx="332.6" cy="1061.4" r="5.5"/><circle cx="343.7" cy="1062.6" r="5.5"/><circle cx="355.1" cy="1063.5" r="5.5"/><circle cx="371.1" cy="1064.9" r="5.5"/><circle cx="382" cy="1066.4" r="5.5"/><circle cx="390.5" cy="1067.3" r="5.5"/><circle cx="400.2" cy="1068.7" r="5.5"/><circle cx="413.5" cy="1071.3" r="5.5"/><circle cx="423.5" cy="1072.2" r="5.5"/><circle cx="434.1" cy="1073.7" r="5.5"/><circle cx="445.8" cy="1075.1" r="5.5"/><circle cx="452.6" cy="1076.6" r="5.5"/><circle cx="466.8" cy="1078.4" r="5.5"/><circle cx="479" cy="1079.8" r="5.5"/><circle cx="489.2" cy="1080.7" r="5.5"/><circle cx="505.7" cy="1082.4" r="5.5"/><circle cx="512.7" cy="1083.6" r="5.5"/><circle cx="527.8" cy="1085.4" r="5.5"/><circle cx="532" cy="1086.2" r="5.5"/><circle cx="549.1" cy="1087.4" r="5.5"/><circle cx="561" cy="1088.3" r="5.5"/><circle cx="571" cy="1089.2" r="5.5"/><circle cx="581.5" cy="1090" r="5.5"/><circle cx="592.4" cy="1090.9" r="5.5"/><circle cx="601.9" cy="1091.8" r="5.5"/><circle cx="617.2" cy="1093" r="5.5"/><circle cx="626.1" cy="1093.5" r="5.5"/><circle cx="637.1" cy="1094.1" r="5.5"/><circle cx="641.6" cy="1094.7" r="5.5"/></g>
<path d="M124.7,995.2L126,995.2L127.4,995.3L128.7,995.3L130,995.4L131.4,995.4L132.7,995.5L134.1,995.6L135.5,995.6L137,995.7L138.4,995.7L139.8,995.8L141.2,995.8L142.6,995.9L144,995.9L145.5,996L146.9,996L148.3,996.1L149.6,996.1L150.9,996.2L152.2,996.2L153.5,996.3L154.8,996.3L156.1,996.4L157.4,996.5L158.7,996.5L160,996.6L161.3,996.6L162.6,996.7L163.9,996.7L165.4,996.7L166.8,996.8L168.3,996.8L169.8,996.9L171.2,996.9L172.7,997L174.1,997L175.6,997.1L177.1,997.1L178.5,997.2L180,997.2L181.3,997.2L182.6,997.3L183.8,997.3L185.1,997.4L186.4,997.4L187.7,997.5L189.1,997.6L190.4,997.6L191.8,997.7L193.1,997.7L194.5,997.8L195.9,997.8L197.2,997.9L198.6,998L199.9,998L201.3,998.1L202.7,998.2L204,998.2L205.4,998.3L206.8,998.4L208.1,998.5L209.5,998.5L210.8,998.6L212.2,998.7L213.6,998.8L215,998.9L216.4,998.9L217.8,999L219.1,999.1L220.5,999.2L221.9,999.2L223.3,999.3L224.7,999.4L226.1,999.4L227.5,999.5L228.9,999.5L230.3,999.6L231.7,999.7L233.1,999.7L234.5,999.8L235.9,999.9L237.2,1000L238.5,1000.1L239.8,1000.2L241,1000.3L242.3,1000.4L243.6,1000.5L245,1000.6L246.5,1000.8L247.9,1000.9L249.3,1001L250.7,1001.1L252.2,1001.3L253.6,1001.4L255,1001.5L256.4,1001.6L257.9,1001.8L259.3,1001.9L260.7,1002L262.1,1002.1L263.4,1002.3L264.8,1002.4L266.2,1002.5L267.5,1002.6L268.9,1002.7L270.2,1002.9L271.6,1003L272.9,1003.1L274.3,1003.3L275.6,1003.4L277,1003.6L278.3,1003.7L279.6,1003.8L280.9,1004L282.2,1004.1L283.4,1004.3L284.7,1004.4L286,1004.6L287.3,1004.8L288.7,1005L290,1005.2L291.4,1005.5L292.8,1005.7L294.1,1006L295.5,1006.2L296.9,1006.4L298.3,1006.6L299.6,1006.8L301,1007L302.4,1007.2L303.8,1007.3L305.2,1007.4L306.6,1007.6L308,1007.7L309.4,1007.9L310.8,1008.1L312.2,1008.4L313.6,1008.6L314.9,1009L316.3,1009.3L317.7,1009.6L319.1,1009.9L320.4,1010.2L321.8,1010.5L323.2,1010.7L324.5,1010.9L325.9,1011.1L327.2,1011.2L328.6,1011.4L329.9,1011.5L331.2,1011.7L332.6,1011.9L334,1012.1L335.4,1012.4L336.8,1012.7L338.1,1013L339.5,1013.3L340.9,1013.6L342.3,1013.9L343.7,1014.2L345.1,1014.5L346.6,1014.7L348,1014.9L349.4,1015.2L350.8,1015.4L352.2,1015.7L353.7,1016L355.1,1016.3L356.6,1016.7L358,1017.1L359.5,1017.5L360.9,1018L362.4,1018.4L363.8,1018.9L365.3,1019.3L366.7,1019.7L368.2,1020.1L369.6,1020.4L371.1,1020.7L372.5,1020.9L373.8,1021L375.2,1021.2L376.6,1021.3L377.9,1021.4L379.3,1021.6L380.6,1021.8L382,1022.1L383.4,1022.5L384.8,1023L386.2,1023.5L387.7,1024L389.1,1024.5L390.5,1025L391.9,1025.4L393.3,1025.7L394.7,1026L396,1026.3L397.4,1026.6L398.8,1026.8L400.2,1027.1L401.7,1027.4L403.2,1027.8L404.6,1028.2L406.1,1028.6L407.6,1029L409.1,1029.5L410.5,1030L412,1030.4L413.5,1030.9L414.9,1031.4L416.4,1031.8L417.8,1032.2L419.2,1032.7L420.6,1033.1L422.1,1033.4L423.5,1033.8L424.8,1034.1L426.1,1034.4L427.5,1034.6L428.8,1034.9L430.1,1035.2L431.5,1035.5L432.8,1035.8L434.1,1036.1L435.6,1036.5L437,1036.9L438.5,1037.4L440,1037.9L441.4,1038.3L442.9,1038.8L444.3,1039.2L445.8,1039.6L447.2,1039.9L448.5,1040.2L449.9,1040.5L451.2,1040.8L452.6,1041.1L454,1041.5L455.4,1041.9L456.9,1042.4L458.3,1042.9L459.7,1043.4L461.1,1043.9L462.5,1044.4L464,1044.9L465.4,1045.4L466.8,1045.8L468.2,1046.2L469.5,1046.5L470.9,1046.8L472.2,1047.2L473.6,1047.4L474.9,1047.7L476.3,1048L477.6,1048.4L479,1048.7L480.5,1049.1L481.9,1049.5L483.4,1049.9L484.8,1050.4L486.3,1050.8L487.7,1051.2L489.2,1051.6L490.6,1051.9L491.9,1052.2L493.3,1052.5L494.7,1052.8L496.1,1053L497.4,1053.3L498.8,1053.5L500.2,1053.7L501.6,1054L502.9,1054.2L504.3,1054.5L505.7,1054.8L507.1,1055.1L508.5,1055.4L509.9,1055.8L511.3,1056.1L512.7,1056.3L514.1,1056.5L515.4,1056.6L516.8,1056.8L518.2,1056.9L519.6,1057L520.9,1057.2L522.3,1057.4L523.7,1057.7L525.1,1058.1L526.4,1058.6L527.8,1059.2L529.2,1059.9L530.6,1060.7L532,1061.5L533.4,1062.2L534.9,1062.7L536.3,1063.2L537.7,1063.5L539.1,1063.8L540.5,1064L542,1064.2L543.4,1064.3L544.8,1064.4L546.2,1064.4L547.7,1064.5L549.1,1064.5L550.6,1064.6L552.1,1064.6L553.6,1064.8L555,1064.9L556.5,1065.1L558,1065.3L559.5,1065.6L561,1065.9L562.4,1066.3L563.9,1066.7L565.3,1067.1L566.7,1067.5L568.1,1067.9L569.6,1068.3L571,1068.6L572.3,1068.8L573.6,1069L574.9,1069.2L576.2,1069.4L577.6,1069.5L578.9,1069.7L580.2,1069.8L581.5,1070L582.9,1070.2L584.2,1070.5L585.6,1070.8L587,1071.1L588.3,1071.4L589.7,1071.7L591,1072L592.4,1072.3L593.8,1072.6L595.1,1072.8L596.5,1073L597.8,1073.2L599.2,1073.4L600.5,1073.6L601.9,1073.8L603.3,1074L604.7,1074.2L606.1,1074.4L607.5,1074.6L608.9,1074.8L610.2,1075L611.6,1075.2L613,1075.4L614.4,1075.6L615.8,1075.9L617.2,1076.1L618.7,1076.4L620.2,1076.6L621.7,1076.9L623.1,1077.2L624.6,1077.4L626.1,1077.6L627.5,1077.8L628.9,1077.9L630.2,1078L631.6,1078.2L633,1078.3L634.4,1078.5L635.7,1078.8L637.1,1079.1L638.2,1079.4L639.4,1079.7L640.5,1080.1L641.6,1080.5" fill="none" stroke="#1A6FDF" stroke-width="1.3"/>
<g fill="#1A6FDF"><polygon points="117.8,999.6 131.6,999.6 124.7,988"/><polygon points="125.8,999.9 139.6,999.9 132.7,988.3"/><polygon points="141.4,1000.5 155.2,1000.5 148.3,988.9"/><polygon points="149.2,1000.8 163,1000.8 156.1,989.2"/><polygon points="157,1001.1 170.8,1001.1 163.9,989.5"/><polygon points="173.1,1001.6 186.9,1001.6 180,990"/><polygon points="180.8,1001.9 194.6,1001.9 187.7,990.3"/><polygon points="194.4,1002.5 208.2,1002.5 201.3,990.9"/><polygon points="205.3,1003.1 219.1,1003.1 212.2,991.5"/><polygon points="216.4,1003.7 230.2,1003.7 223.3,992.1"/><polygon points="229,1004.3 242.8,1004.3 235.9,992.7"/><polygon points="236.7,1004.9 250.5,1004.9 243.6,993.3"/><polygon points="252.4,1006.3 266.2,1006.3 259.3,994.7"/><polygon points="259.3,1006.9 273.1,1006.9 266.2,995.3"/><polygon points="271.4,1008.1 285.2,1008.1 278.3,996.5"/><polygon points="280.4,1009.2 294.2,1009.2 287.3,997.6"/><polygon points="294.1,1011.4 307.9,1011.4 301,999.8"/><polygon points="303.9,1012.5 317.7,1012.5 310.8,1000.9"/><polygon points="314.9,1014.9 328.7,1014.9 321.8,1003.3"/><polygon points="325.7,1016.3 339.5,1016.3 332.6,1004.7"/><polygon points="336.8,1018.6 350.6,1018.6 343.7,1007"/><polygon points="348.2,1020.7 362,1020.7 355.1,1009.1"/><polygon points="364.2,1025.1 378,1025.1 371.1,1013.5"/><polygon points="375.1,1026.5 388.9,1026.5 382,1014.9"/><polygon points="383.6,1029.4 397.4,1029.4 390.5,1017.8"/><polygon points="393.3,1031.5 407.1,1031.5 400.2,1019.9"/><polygon points="406.6,1035.3 420.4,1035.3 413.5,1023.7"/><polygon points="416.6,1038.2 430.4,1038.2 423.5,1026.6"/><polygon points="427.2,1040.5 441,1040.5 434.1,1028.9"/><polygon points="438.9,1044 452.7,1044 445.8,1032.4"/><polygon points="445.7,1045.5 459.5,1045.5 452.6,1033.9"/><polygon points="459.9,1050.2 473.7,1050.2 466.8,1038.6"/><polygon points="472.1,1053.1 485.9,1053.1 479,1041.5"/><polygon points="482.3,1056 496.1,1056 489.2,1044.4"/><polygon points="498.8,1059.2 512.6,1059.2 505.7,1047.6"/><polygon points="505.8,1060.7 519.6,1060.7 512.7,1049.1"/><polygon points="520.9,1063.6 534.7,1063.6 527.8,1052"/><polygon points="525.1,1065.9 538.9,1065.9 532,1054.3"/><polygon points="542.2,1068.9 556,1068.9 549.1,1057.3"/><polygon points="554.1,1070.3 567.9,1070.3 561,1058.7"/><polygon points="564.1,1073 577.9,1073 571,1061.4"/><polygon points="574.6,1074.4 588.4,1074.4 581.5,1062.8"/><polygon points="585.5,1076.7 599.3,1076.7 592.4,1065.1"/><polygon points="595,1078.2 608.8,1078.2 601.9,1066.6"/><polygon points="610.3,1080.5 624.1,1080.5 617.2,1068.9"/><polygon points="619.2,1082 633,1082 626.1,1070.4"/><polygon points="630.2,1083.5 644,1083.5 637.1,1071.9"/><polygon points="634.7,1084.9 648.5,1084.9 641.6,1073.3"/></g>
<path d="M124.7,942.6L126,942.6L127.4,942.7L128.7,942.7L130,942.8L131.4,942.8L132.7,942.9L134.1,943L135.5,943.1L137,943.1L138.4,943.2L139.8,943.3L141.2,943.4L142.6,943.5L144,943.6L145.5,943.7L146.9,943.7L148.3,943.8L149.6,943.8L150.9,943.9L152.2,943.9L153.5,943.9L154.8,944L156.1,944L157.4,944L158.7,944.1L160,944.1L161.3,944.2L162.6,944.2L163.9,944.3L165.4,944.4L166.8,944.5L168.3,944.5L169.8,944.6L171.2,944.7L172.7,944.8L174.1,944.9L175.6,945L177.1,945.1L178.5,945.1L180,945.2L181.3,945.3L182.6,945.3L183.8,945.3L185.1,945.4L186.4,945.4L187.7,945.5L189.1,945.6L190.4,945.6L191.8,945.7L193.1,945.8L194.5,945.9L195.9,946L197.2,946.1L198.6,946.2L199.9,946.3L201.3,946.4L202.7,946.5L204,946.6L205.4,946.7L206.8,946.7L208.1,946.8L209.5,946.9L210.8,946.9L212.2,947L213.6,947.1L215,947.1L216.4,947.2L217.8,947.2L219.1,947.3L220.5,947.4L221.9,947.4L223.3,947.5L224.7,947.6L226.1,947.7L227.5,947.8L228.9,947.9L230.3,948L231.7,948.1L233.1,948.2L234.5,948.3L235.9,948.4L237.2,948.5L238.5,948.6L239.8,948.7L241,948.8L242.3,948.9L243.6,949L245,949.2L246.5,949.3L247.9,949.5L249.3,949.7L250.7,949.9L252.2,950.1L253.6,950.3L255,950.5L256.4,950.7L257.9,950.9L259.3,951.1L260.7,951.3L262.1,951.4L263.4,951.6L264.8,951.7L266.2,951.9L267.5,952.1L268.9,952.2L270.2,952.4L271.6,952.6L272.9,952.7L274.3,952.9L275.6,953.1L277,953.2L278.3,953.4L279.6,953.6L280.9,953.7L282.2,953.9L283.4,954L284.7,954.2L286,954.4L287.3,954.6L288.7,954.9L290,955.1L291.4,955.4L292.8,955.8L294.1,956.1L295.5,956.4L296.9,956.8L298.3,957.1L299.6,957.4L301,957.7L302.4,958L303.8,958.3L305.2,958.5L306.6,958.8L308,959.1L309.4,959.5L310.8,959.9L312.2,960.3L313.6,960.8L314.9,961.4L316.3,961.9L317.7,962.4L319.1,962.9L320.4,963.3L321.8,963.7L323.2,964L324.5,964.3L325.9,964.5L327.2,964.7L328.6,964.9L329.9,965.1L331.2,965.4L332.6,965.7L334,966.1L335.4,966.6L336.8,967.2L338.1,967.8L339.5,968.4L340.9,969L342.3,969.6L343.7,970.1L345.1,970.6L346.6,971.1L348,971.5L349.4,971.8L350.8,972.1L352.2,972.4L353.7,972.7L355.1,973L356.6,973.3L358,973.5L359.5,973.8L360.9,974.1L362.4,974.4L363.8,974.7L365.3,975L366.7,975.4L368.2,975.8L369.6,976.3L371.1,976.8L372.5,977.3L373.8,977.9L375.2,978.5L376.6,979.1L377.9,979.8L379.3,980.4L380.6,981.1L382,981.8L383.4,982.5L384.8,983.2L386.2,983.9L387.7,984.5L389.1,985.1L390.5,985.6L391.9,986.1L393.3,986.5L394.7,986.9L396,987.2L397.4,987.6L398.8,988L400.2,988.5L401.7,989.1L403.2,989.7L404.6,990.3L406.1,991L407.6,991.7L409.1,992.4L410.5,993.1L412,993.8L413.5,994.4L414.9,995L416.4,995.5L417.8,996L419.2,996.5L420.6,997.1L422.1,997.6L423.5,998.1L424.8,998.6L426.1,999.2L427.5,999.7L428.8,1000.2L430.1,1000.8L431.5,1001.3L432.8,1001.8L434.1,1002.2L435.6,1002.6L437,1003L438.5,1003.4L440,1003.9L441.4,1004.4L442.9,1005L444.3,1005.7L445.8,1006.6L447.2,1007.6L448.5,1008.7L449.9,1009.8L451.2,1010.9L452.6,1011.9L454,1012.8L455.4,1013.5L456.9,1014.2L458.3,1014.7L459.7,1015.1L461.1,1015.5L462.5,1015.8L464,1016.1L465.4,1016.5L466.8,1016.8L468.2,1017.2L469.5,1017.6L470.9,1018L472.2,1018.5L473.6,1018.9L474.9,1019.4L476.3,1019.9L477.6,1020.4L479,1020.9L480.5,1021.4L481.9,1021.9L483.4,1022.4L484.8,1022.9L486.3,1023.3L487.7,1023.7L489.2,1024.1L490.6,1024.4L491.9,1024.7L493.3,1025L494.7,1025.3L496.1,1025.6L497.4,1025.9L498.8,1026.3L500.2,1026.6L501.6,1027L502.9,1027.5L504.3,1027.9L505.7,1028.5L507.1,1029.1L508.5,1029.8L509.9,1030.4L511.3,1031L512.7,1031.4L514.1,1031.7L515.4,1031.9L516.8,1032L518.2,1032L519.6,1032.1L520.9,1032.3L522.3,1032.5L523.7,1032.9L525.1,1033.4L526.4,1034.2L527.8,1035.2L529.2,1036.5L530.6,1038L532,1039.3L533.4,1040.4L534.9,1041.2L536.3,1041.8L537.7,1042.3L539.1,1042.5L540.5,1042.6L542,1042.6L543.4,1042.6L544.8,1042.5L546.2,1042.4L547.7,1042.4L549.1,1042.5L550.6,1042.7L552.1,1043L553.6,1043.4L555,1043.8L556.5,1044.3L558,1044.9L559.5,1045.4L561,1046L562.4,1046.5L563.9,1047L565.3,1047.5L566.7,1048L568.1,1048.5L569.6,1049L571,1049.5L572.3,1049.9L573.6,1050.4L574.9,1050.8L576.2,1051.2L577.6,1051.7L578.9,1052L580.2,1052.4L581.5,1052.7L582.9,1053L584.2,1053.3L585.6,1053.5L587,1053.7L588.3,1054L589.7,1054.2L591,1054.5L592.4,1054.8L593.8,1055.2L595.1,1055.5L596.5,1056L597.8,1056.4L599.2,1056.8L600.5,1057.3L601.9,1057.7L603.3,1058.1L604.7,1058.5L606.1,1058.9L607.5,1059.3L608.9,1059.6L610.2,1060L611.6,1060.3L613,1060.6L614.4,1060.9L615.8,1061.2L617.2,1061.5L618.7,1061.8L620.2,1062.1L621.7,1062.4L623.1,1062.6L624.6,1062.8L626.1,1063L627.5,1063.1L628.9,1063.2L630.2,1063.2L631.6,1063.3L633,1063.5L634.4,1063.7L635.7,1064L637.1,1064.4L638.2,1064.8L639.4,1065.4L640.5,1065.9L641.6,1066.5" fill="none" stroke="#37AD6B" stroke-width="1.3"/>
<g fill="#37AD6B"><polygon points="117.8,938.2 131.6,938.2 124.7,949.8"/><polygon points="125.8,938.5 139.6,938.5 132.7,950.1"/><polygon points="141.4,939.4 155.2,939.4 148.3,951"/><polygon points="149.2,939.6 163,939.6 156.1,951.2"/><polygon points="157,939.9 170.8,939.9 163.9,951.5"/><polygon points="173.1,940.8 186.9,940.8 180,952.4"/><polygon points="180.8,941.1 194.6,941.1 187.7,952.7"/><polygon points="194.4,942 208.2,942 201.3,953.6"/><polygon points="205.3,942.6 219.1,942.6 212.2,954.2"/><polygon points="216.4,943.1 230.2,943.1 223.3,954.7"/><polygon points="229,944 242.8,944 235.9,955.6"/><polygon points="236.7,944.6 250.5,944.6 243.6,956.2"/><polygon points="252.4,946.7 266.2,946.7 259.3,958.3"/><polygon points="259.3,947.5 273.1,947.5 266.2,959.1"/><polygon points="271.4,949 285.2,949 278.3,960.6"/><polygon points="280.4,950.2 294.2,950.2 287.3,961.8"/><polygon points="294.1,953.3 307.9,953.3 301,964.9"/><polygon points="303.9,955.5 317.7,955.5 310.8,967.1"/><polygon points="314.9,959.3 328.7,959.3 321.8,970.9"/><polygon points="325.7,961.3 339.5,961.3 332.6,972.9"/><polygon points="336.8,965.7 350.6,965.7 343.7,977.3"/><polygon points="348.2,968.6 362,968.6 355.1,980.2"/><polygon points="364.2,972.4 378,972.4 371.1,984"/><polygon points="375.1,977.4 388.9,977.4 382,989"/><polygon points="383.6,981.2 397.4,981.2 390.5,992.8"/><polygon points="393.3,984.1 407.1,984.1 400.2,995.7"/><polygon points="406.6,990 420.4,990 413.5,1001.6"/><polygon points="416.6,993.7 430.4,993.7 423.5,1005.3"/><polygon points="427.2,997.8 441,997.8 434.1,1009.4"/><polygon points="438.9,1002.2 452.7,1002.2 445.8,1013.8"/><polygon points="445.7,1007.5 459.5,1007.5 452.6,1019.1"/><polygon points="459.9,1012.4 473.7,1012.4 466.8,1024"/><polygon points="472.1,1016.5 485.9,1016.5 479,1028.1"/><polygon points="482.3,1019.7 496.1,1019.7 489.2,1031.3"/><polygon points="498.8,1024.1 512.6,1024.1 505.7,1035.7"/><polygon points="505.8,1027 519.6,1027 512.7,1038.6"/><polygon points="520.9,1030.8 534.7,1030.8 527.8,1042.4"/><polygon points="525.1,1034.9 538.9,1034.9 532,1046.5"/><polygon points="542.2,1038.1 556,1038.1 549.1,1049.7"/><polygon points="554.1,1041.6 567.9,1041.6 561,1053.2"/><polygon points="564.1,1045.1 577.9,1045.1 571,1056.7"/><polygon points="574.6,1048.3 588.4,1048.3 581.5,1059.9"/><polygon points="585.5,1050.4 599.3,1050.4 592.4,1062"/><polygon points="595,1053.3 608.8,1053.3 601.9,1064.9"/><polygon points="610.3,1057.1 624.1,1057.1 617.2,1068.7"/><polygon points="619.2,1058.6 633,1058.6 626.1,1070.2"/><polygon points="630.2,1060 644,1060 637.1,1071.6"/><polygon points="634.7,1062.1 648.5,1062.1 641.6,1073.7"/></g>
<path d="M124.7,885.3L126,885.4L127.4,885.5L128.7,885.6L130,885.7L131.4,885.8L132.7,885.9L134.1,886L135.5,886.1L137,886.2L138.4,886.3L139.8,886.4L141.2,886.5L142.6,886.6L144,886.7L145.5,886.8L146.9,886.9L148.3,887L149.6,887.1L150.9,887.2L152.2,887.2L153.5,887.3L154.8,887.4L156.1,887.5L157.4,887.6L158.7,887.7L160,887.8L161.3,887.9L162.6,888L163.9,888.1L165.4,888.2L166.8,888.3L168.3,888.4L169.8,888.5L171.2,888.6L172.7,888.7L174.1,888.8L175.6,889L177.1,889.1L178.5,889.2L180,889.3L181.3,889.4L182.6,889.5L183.8,889.6L185.1,889.8L186.4,889.9L187.7,890L189.1,890.1L190.4,890.2L191.8,890.4L193.1,890.5L194.5,890.6L195.9,890.7L197.2,890.8L198.6,891L199.9,891.1L201.3,891.2L202.7,891.3L204,891.4L205.4,891.6L206.8,891.7L208.1,891.8L209.5,892L210.8,892.1L212.2,892.3L213.6,892.5L215,892.7L216.4,892.9L217.8,893.1L219.1,893.3L220.5,893.5L221.9,893.6L223.3,893.8L224.7,894L226.1,894.1L227.5,894.2L228.9,894.3L230.3,894.5L231.7,894.6L233.1,894.7L234.5,894.9L235.9,895L237.2,895.1L238.5,895.3L239.8,895.5L241,895.6L242.3,895.8L243.6,895.9L245,896L246.5,896.1L247.9,896.2L249.3,896.4L250.7,896.5L252.2,896.6L253.6,896.8L255,896.9L256.4,897.2L257.9,897.5L259.3,897.8L260.7,898.2L262.1,898.6L263.4,899L264.8,899.4L266.2,899.8L267.5,900.1L268.9,900.3L270.2,900.5L271.6,900.7L272.9,900.8L274.3,900.9L275.6,901.1L277,901.3L278.3,901.5L279.6,901.8L280.9,902L282.2,902.4L283.4,902.7L284.7,903L286,903.3L287.3,903.6L288.7,903.9L290,904.1L291.4,904.3L292.8,904.5L294.1,904.7L295.5,904.8L296.9,905.1L298.3,905.3L299.6,905.6L301,905.9L302.4,906.3L303.8,906.7L305.2,907.2L306.6,907.8L308,908.3L309.4,908.9L310.8,909.5L312.2,910.1L313.6,910.7L314.9,911.3L316.3,911.8L317.7,912.4L319.1,913L320.4,913.5L321.8,914.1L323.2,914.6L324.5,915.1L325.9,915.6L327.2,916.1L328.6,916.6L329.9,917.1L331.2,917.5L332.6,917.9L334,918.3L335.4,918.7L336.8,919.1L338.1,919.5L339.5,919.9L340.9,920.3L342.3,920.8L343.7,921.4L345.1,922L346.6,922.7L348,923.5L349.4,924.2L350.8,925L352.2,925.8L353.7,926.5L355.1,927.2L356.6,927.9L358,928.5L359.5,929.1L360.9,929.6L362.4,930.2L363.8,930.7L365.3,931.2L366.7,931.6L368.2,932.1L369.6,932.6L371.1,933.1L372.5,933.6L373.8,934.1L375.2,934.6L376.6,935.1L377.9,935.7L379.3,936.3L380.6,936.9L382,937.5L383.4,938.2L384.8,938.9L386.2,939.6L387.7,940.3L389.1,941.1L390.5,941.9L391.9,942.7L393.3,943.5L394.7,944.2L396,945L397.4,945.7L398.8,946.3L400.2,946.9L401.7,947.4L403.2,947.9L404.6,948.3L406.1,948.7L407.6,949.1L409.1,949.5L410.5,949.9L412,950.4L413.5,951L414.9,951.7L416.4,952.4L417.8,953.3L419.2,954.2L420.6,955.1L422.1,956.2L423.5,957.2L424.8,958.2L426.1,959.2L427.5,960.2L428.8,961.3L430.1,962.3L431.5,963.3L432.8,964.3L434.1,965.3L435.6,966.4L437,967.4L438.5,968.4L440,969.3L441.4,970.2L442.9,971.1L444.3,971.9L445.8,972.6L447.2,973.2L448.5,973.8L449.9,974.4L451.2,974.9L452.6,975.5L454,976.1L455.4,976.7L456.9,977.4L458.3,978.1L459.7,978.7L461.1,979.4L462.5,980.2L464,980.9L465.4,981.6L466.8,982.4L468.2,983.1L469.5,983.9L470.9,984.6L472.2,985.4L473.6,986.1L474.9,986.9L476.3,987.7L477.6,988.4L479,989.2L480.5,990L481.9,990.8L483.4,991.6L484.8,992.4L486.3,993.1L487.7,993.8L489.2,994.4L490.6,994.9L491.9,995.4L493.3,995.8L494.7,996.3L496.1,996.7L497.4,997.1L498.8,997.6L500.2,998.1L501.6,998.6L502.9,999.3L504.3,1000L505.7,1000.8L507.1,1001.7L508.5,1002.7L509.9,1003.7L511.3,1004.5L512.7,1005.2L514.1,1005.6L515.4,1005.9L516.8,1006L518.2,1006.1L519.6,1006.1L520.9,1006.1L522.3,1006.3L523.7,1006.6L525.1,1007L526.4,1007.8L527.8,1008.8L529.2,1010.2L530.6,1011.7L532,1013.2L533.4,1014.5L534.9,1015.5L536.3,1016.2L537.7,1016.8L539.1,1017.2L540.5,1017.5L542,1017.7L543.4,1017.8L544.8,1017.9L546.2,1018L547.7,1018.2L549.1,1018.4L550.6,1018.7L552.1,1019.2L553.6,1019.7L555,1020.2L556.5,1020.8L558,1021.5L559.5,1022.1L561,1022.8L562.4,1023.4L563.9,1024L565.3,1024.6L566.7,1025.1L568.1,1025.7L569.6,1026.3L571,1026.8L572.3,1027.3L573.6,1027.8L574.9,1028.3L576.2,1028.8L577.6,1029.3L578.9,1029.8L580.2,1030.4L581.5,1030.9L582.9,1031.5L584.2,1032L585.6,1032.6L587,1033.1L588.3,1033.7L589.7,1034.3L591,1034.8L592.4,1035.3L593.8,1035.8L595.1,1036.3L596.5,1036.7L597.8,1037.1L599.2,1037.5L600.5,1037.9L601.9,1038.2L603.3,1038.5L604.7,1038.8L606.1,1039L607.5,1039.2L608.9,1039.5L610.2,1039.7L611.6,1039.9L613,1040.2L614.4,1040.5L615.8,1040.8L617.2,1041.2L618.7,1041.7L620.2,1042.2L621.7,1042.7L623.1,1043.2L624.6,1043.7L626.1,1044.1L627.5,1044.4L628.9,1044.7L630.2,1045L631.6,1045.4L633,1045.7L634.4,1046.2L635.7,1046.8L637.1,1047.6L638.2,1048.4L639.4,1049.2L640.5,1050.1L641.6,1051.1" fill="none" stroke="#B177DE" stroke-width="1.3"/>
<g fill="#B177DE"><polygon points="118,885.3 124.7,878.6 131.4,885.3 124.7,892"/><polygon points="126,885.9 132.7,879.2 139.4,885.9 132.7,892.6"/><polygon points="141.6,887 148.3,880.3 155,887 148.3,893.7"/><polygon points="149.4,887.5 156.1,880.8 162.8,887.5 156.1,894.2"/><polygon points="157.2,888.1 163.9,881.4 170.6,888.1 163.9,894.8"/><polygon points="173.3,889.3 180,882.6 186.7,889.3 180,896"/><polygon points="181,890 187.7,883.3 194.4,890 187.7,896.7"/><polygon points="194.6,891.2 201.3,884.5 208,891.2 201.3,897.9"/><polygon points="205.5,892.3 212.2,885.6 218.9,892.3 212.2,899"/><polygon points="216.6,893.8 223.3,887.1 230,893.8 223.3,900.5"/><polygon points="229.2,895 235.9,888.3 242.6,895 235.9,901.7"/><polygon points="236.9,895.9 243.6,889.2 250.3,895.9 243.6,902.6"/><polygon points="252.6,897.8 259.3,891.1 266,897.8 259.3,904.5"/><polygon points="259.5,899.8 266.2,893.1 272.9,899.8 266.2,906.5"/><polygon points="271.6,901.5 278.3,894.8 285,901.5 278.3,908.2"/><polygon points="280.6,903.6 287.3,896.9 294,903.6 287.3,910.3"/><polygon points="294.3,905.9 301,899.2 307.7,905.9 301,912.6"/><polygon points="304.1,909.5 310.8,902.8 317.5,909.5 310.8,916.2"/><polygon points="315.1,914.1 321.8,907.4 328.5,914.1 321.8,920.8"/><polygon points="325.9,917.9 332.6,911.2 339.3,917.9 332.6,924.6"/><polygon points="337,921.4 343.7,914.7 350.4,921.4 343.7,928.1"/><polygon points="348.4,927.2 355.1,920.5 361.8,927.2 355.1,933.9"/><polygon points="364.4,933.1 371.1,926.4 377.8,933.1 371.1,939.8"/><polygon points="375.3,937.5 382,930.8 388.7,937.5 382,944.2"/><polygon points="383.8,941.9 390.5,935.2 397.2,941.9 390.5,948.6"/><polygon points="393.5,946.9 400.2,940.2 406.9,946.9 400.2,953.6"/><polygon points="406.8,951 413.5,944.3 420.2,951 413.5,957.7"/><polygon points="416.8,957.2 423.5,950.5 430.2,957.2 423.5,963.9"/><polygon points="427.4,965.3 434.1,958.6 440.8,965.3 434.1,972"/><polygon points="439.1,972.6 445.8,965.9 452.5,972.6 445.8,979.3"/><polygon points="445.9,975.5 452.6,968.8 459.3,975.5 452.6,982.2"/><polygon points="460.1,982.4 466.8,975.7 473.5,982.4 466.8,989.1"/><polygon points="472.3,989.2 479,982.5 485.7,989.2 479,995.9"/><polygon points="482.5,994.4 489.2,987.7 495.9,994.4 489.2,1001.1"/><polygon points="499,1000.8 505.7,994.1 512.4,1000.8 505.7,1007.5"/><polygon points="506,1005.2 512.7,998.5 519.4,1005.2 512.7,1011.9"/><polygon points="521.1,1008.8 527.8,1002.1 534.5,1008.8 527.8,1015.5"/><polygon points="525.3,1013.2 532,1006.5 538.7,1013.2 532,1019.9"/><polygon points="542.4,1018.4 549.1,1011.7 555.8,1018.4 549.1,1025.1"/><polygon points="554.3,1022.8 561,1016.1 567.7,1022.8 561,1029.5"/><polygon points="564.3,1026.8 571,1020.1 577.7,1026.8 571,1033.5"/><polygon points="574.8,1030.9 581.5,1024.2 588.2,1030.9 581.5,1037.6"/><polygon points="585.7,1035.3 592.4,1028.6 599.1,1035.3 592.4,1042"/><polygon points="595.2,1038.2 601.9,1031.5 608.6,1038.2 601.9,1044.9"/><polygon points="610.5,1041.2 617.2,1034.5 623.9,1041.2 617.2,1047.9"/><polygon points="619.4,1044.1 626.1,1037.4 632.8,1044.1 626.1,1050.8"/><polygon points="630.4,1047.6 637.1,1040.9 643.8,1047.6 637.1,1054.3"/><polygon points="634.9,1051.1 641.6,1044.4 648.3,1051.1 641.6,1057.8"/></g>
<path d="M124.7,829.5L126,829.6L127.4,829.7L128.7,829.8L130,829.9L131.4,830L132.7,830.1L134.1,830.2L135.5,830.3L137,830.4L138.4,830.6L139.8,830.7L141.2,830.8L142.6,830.9L144,831.1L145.5,831.2L146.9,831.3L148.3,831.5L149.6,831.6L150.9,831.8L152.2,831.9L153.5,832.1L154.8,832.2L156.1,832.4L157.4,832.6L158.7,832.7L160,832.9L161.3,833L162.6,833.2L163.9,833.3L165.4,833.5L166.8,833.6L168.3,833.8L169.8,833.9L171.2,834.1L172.7,834.2L174.1,834.4L175.6,834.5L177.1,834.7L178.5,834.8L180,835L181.3,835.1L182.6,835.3L183.8,835.4L185.1,835.6L186.4,835.7L187.7,835.9L189.1,836.1L190.4,836.3L191.8,836.5L193.1,836.6L194.5,836.8L195.9,837L197.2,837.2L198.6,837.4L199.9,837.5L201.3,837.7L202.7,837.8L204,838L205.4,838.1L206.8,838.2L208.1,838.4L209.5,838.5L210.8,838.6L212.2,838.8L213.6,839L215,839.1L216.4,839.3L217.8,839.5L219.1,839.7L220.5,839.9L221.9,840.1L223.3,840.3L224.7,840.5L226.1,840.6L227.5,840.8L228.9,841L230.3,841.1L231.7,841.3L233.1,841.5L234.5,841.6L235.9,841.8L237.2,842L238.5,842.1L239.8,842.3L241,842.5L242.3,842.7L243.6,842.9L245,843.1L246.5,843.3L247.9,843.5L249.3,843.8L250.7,844L252.2,844.2L253.6,844.4L255,844.7L256.4,844.9L257.9,845.2L259.3,845.5L260.7,845.8L262.1,846.1L263.4,846.4L264.8,846.7L266.2,847L267.5,847.3L268.9,847.6L270.2,847.9L271.6,848.2L272.9,848.5L274.3,848.8L275.6,849.1L277,849.5L278.3,849.9L279.6,850.3L280.9,850.7L282.2,851.2L283.4,851.6L284.7,852L286,852.4L287.3,852.8L288.7,853.2L290,853.5L291.4,853.8L292.8,854L294.1,854.3L295.5,854.6L296.9,854.9L298.3,855.2L299.6,855.6L301,856L302.4,856.5L303.8,857L305.2,857.6L306.6,858.2L308,858.8L309.4,859.5L310.8,860.1L312.2,860.7L313.6,861.4L314.9,862L316.3,862.6L317.7,863.2L319.1,863.8L320.4,864.4L321.8,865L323.2,865.6L324.5,866.2L325.9,866.7L327.2,867.3L328.6,867.9L329.9,868.5L331.2,869.1L332.6,869.7L334,870.3L335.4,871L336.8,871.7L338.1,872.4L339.5,873.1L340.9,873.9L342.3,874.7L343.7,875.5L345.1,876.4L346.6,877.3L348,878.2L349.4,879.1L350.8,879.9L352.2,880.7L353.7,881.4L355.1,882L356.6,882.5L358,882.9L359.5,883.2L360.9,883.5L362.4,883.8L363.8,884.2L365.3,884.6L366.7,885.2L368.2,885.8L369.6,886.7L371.1,887.8L372.5,889L373.8,890.4L375.2,891.8L376.6,893.3L377.9,894.6L379.3,895.8L380.6,896.8L382,897.4L383.4,897.7L384.8,897.7L386.2,897.7L387.7,897.7L389.1,898L390.5,898.6L391.9,899.7L393.3,901.2L394.7,903L396,904.8L397.4,906.7L398.8,908.3L400.2,909.7L401.7,910.7L403.2,911.3L404.6,911.7L406.1,911.8L407.6,911.8L409.1,911.9L410.5,912.1L412,912.5L413.5,913.2L414.9,914.3L416.4,915.7L417.8,917.4L419.2,919.2L420.6,921.1L422.1,923L423.5,924.9L424.8,926.5L426.1,928L427.5,929.3L428.8,930.4L430.1,931.4L431.5,932.2L432.8,932.7L434.1,933.1L435.6,933.3L437,933.3L438.5,933.2L440,933.2L441.4,933.4L442.9,933.8L444.3,934.7L445.8,936L447.2,937.7L448.5,939.8L449.9,942L451.2,944.2L452.6,946.2L454,947.9L455.4,949.1L456.9,950L458.3,950.7L459.7,951.2L461.1,951.5L462.5,951.7L464,951.9L465.4,952.1L466.8,952.4L468.2,952.8L469.5,953.4L470.9,954.1L472.2,954.8L473.6,955.7L474.9,956.7L476.3,957.7L477.6,958.8L479,960L480.5,961.3L481.9,962.6L483.4,964L484.8,965.2L486.3,966.5L487.7,967.6L489.2,968.6L490.6,969.4L491.9,970.1L493.3,970.7L494.7,971.2L496.1,971.7L497.4,972.1L498.8,972.5L500.2,972.9L501.6,973.3L502.9,973.7L504.3,974.2L505.7,974.7L507.1,975.3L508.5,976L509.9,976.6L511.3,977.2L512.7,977.7L514.1,978L515.4,978.3L516.8,978.5L518.2,978.6L519.6,978.8L520.9,979.1L522.3,979.5L523.7,980.1L525.1,980.9L526.4,982L527.8,983.4L529.2,985.1L530.6,987L532,988.8L533.4,990.3L534.9,991.5L536.3,992.5L537.7,993.2L539.1,993.8L540.5,994.2L542,994.5L543.4,994.8L544.8,995L546.2,995.3L547.7,995.7L549.1,996.1L550.6,996.7L552.1,997.5L553.6,998.3L555,999.2L556.5,1000.2L558,1001.2L559.5,1002.1L561,1003L562.4,1003.8L563.9,1004.5L565.3,1005.2L566.7,1005.9L568.1,1006.5L569.6,1007.2L571,1007.8L572.3,1008.4L573.6,1009L574.9,1009.6L576.2,1010.3L577.6,1010.9L578.9,1011.4L580.2,1012L581.5,1012.5L582.9,1013L584.2,1013.4L585.6,1013.8L587,1014.3L588.3,1014.7L589.7,1015.1L591,1015.6L592.4,1016.1L593.8,1016.7L595.1,1017.3L596.5,1017.9L597.8,1018.6L599.2,1019.2L600.5,1019.8L601.9,1020.4L603.3,1020.9L604.7,1021.3L606.1,1021.7L607.5,1022.1L608.9,1022.4L610.2,1022.7L611.6,1023L613,1023.4L614.4,1023.7L615.8,1024.1L617.2,1024.6L618.7,1025.2L620.2,1025.8L621.7,1026.4L623.1,1027L624.6,1027.6L626.1,1028.1L627.5,1028.5L628.9,1028.8L630.2,1029.1L631.6,1029.5L633,1029.9L634.4,1030.5L635.7,1031.1L637.1,1032L638.2,1032.9L639.4,1033.8L640.5,1034.9L641.6,1036" fill="none" stroke="#CC9900" stroke-width="1.3"/>
<g fill="#CC9900"><polygon points="116.9,829.5 129,822.9 129,836.1"/><polygon points="124.9,830.1 137,823.5 137,836.7"/><polygon points="140.5,831.5 152.6,824.9 152.6,838.1"/><polygon points="148.3,832.4 160.4,825.8 160.4,839"/><polygon points="156.1,833.3 168.2,826.7 168.2,839.9"/><polygon points="172.2,835 184.3,828.4 184.3,841.6"/><polygon points="179.9,835.9 192,829.3 192,842.5"/><polygon points="193.5,837.7 205.6,831.1 205.6,844.3"/><polygon points="204.4,838.8 216.5,832.2 216.5,845.4"/><polygon points="215.5,840.3 227.6,833.7 227.6,846.9"/><polygon points="228.1,841.8 240.2,835.2 240.2,848.4"/><polygon points="235.8,842.9 247.9,836.3 247.9,849.5"/><polygon points="251.5,845.5 263.6,838.9 263.6,852.1"/><polygon points="258.4,847 270.5,840.4 270.5,853.6"/><polygon points="270.5,849.9 282.6,843.3 282.6,856.5"/><polygon points="279.5,852.8 291.6,846.2 291.6,859.4"/><polygon points="293.2,856 305.3,849.4 305.3,862.6"/><polygon points="303,860.1 315.1,853.5 315.1,866.7"/><polygon points="314,865 326.1,858.4 326.1,871.6"/><polygon points="324.8,869.7 336.9,863.1 336.9,876.3"/><polygon points="335.9,875.5 348,868.9 348,882.1"/><polygon points="347.3,882 359.4,875.4 359.4,888.6"/><polygon points="363.3,887.8 375.4,881.2 375.4,894.4"/><polygon points="374.2,897.4 386.3,890.8 386.3,904"/><polygon points="382.7,898.6 394.8,892 394.8,905.2"/><polygon points="392.4,909.7 404.5,903.1 404.5,916.3"/><polygon points="405.7,913.2 417.8,906.6 417.8,919.8"/><polygon points="415.7,924.9 427.8,918.3 427.8,931.5"/><polygon points="426.3,933.1 438.4,926.5 438.4,939.7"/><polygon points="438,936 450.1,929.4 450.1,942.6"/><polygon points="444.8,946.2 456.9,939.6 456.9,952.8"/><polygon points="459,952.4 471.1,945.8 471.1,959"/><polygon points="471.2,960 483.3,953.4 483.3,966.6"/><polygon points="481.4,968.6 493.5,962 493.5,975.2"/><polygon points="497.9,974.7 510,968.1 510,981.3"/><polygon points="504.9,977.7 517,971.1 517,984.3"/><polygon points="520,983.4 532.1,976.8 532.1,990"/><polygon points="524.2,988.8 536.3,982.2 536.3,995.4"/><polygon points="541.3,996.1 553.4,989.5 553.4,1002.7"/><polygon points="553.2,1003 565.3,996.4 565.3,1009.6"/><polygon points="563.2,1007.8 575.3,1001.2 575.3,1014.4"/><polygon points="573.7,1012.5 585.8,1005.9 585.8,1019.1"/><polygon points="584.6,1016.1 596.7,1009.5 596.7,1022.7"/><polygon points="594.1,1020.4 606.2,1013.8 606.2,1027"/><polygon points="609.4,1024.6 621.5,1018 621.5,1031.2"/><polygon points="618.3,1028.1 630.4,1021.5 630.4,1034.7"/><polygon points="629.3,1032 641.4,1025.4 641.4,1038.6"/><polygon points="633.8,1036 645.9,1029.4 645.9,1042.6"/></g>
<path d="M124.7,778.1L126,778.2L127.4,778.3L128.7,778.4L130,778.5L131.4,778.6L132.7,778.7L134.1,778.8L135.5,778.9L137,779L138.4,779.1L139.8,779.2L141.2,779.3L142.6,779.4L144,779.5L145.5,779.7L146.9,779.8L148.3,779.9L149.6,780L150.9,780.1L152.2,780.3L153.5,780.4L154.8,780.6L156.1,780.7L157.4,780.8L158.7,781L160,781.1L161.3,781.3L162.6,781.4L163.9,781.6L165.4,781.8L166.8,781.9L168.3,782.1L169.8,782.3L171.2,782.5L172.7,782.6L174.1,782.8L175.6,782.9L177.1,783.1L178.5,783.3L180,783.4L181.3,783.5L182.6,783.6L183.8,783.8L185.1,783.9L186.4,784L187.7,784.2L189.1,784.4L190.4,784.6L191.8,784.8L193.1,785L194.5,785.2L195.9,785.4L197.2,785.7L198.6,785.9L199.9,786.1L201.3,786.3L202.7,786.5L204,786.7L205.4,786.9L206.8,787L208.1,787.2L209.5,787.4L210.8,787.5L212.2,787.7L213.6,787.9L215,788.1L216.4,788.3L217.8,788.5L219.1,788.7L220.5,788.8L221.9,789L223.3,789.2L224.7,789.4L226.1,789.5L227.5,789.7L228.9,789.8L230.3,790L231.7,790.2L233.1,790.3L234.5,790.5L235.9,790.7L237.2,790.9L238.5,791.1L239.8,791.3L241,791.6L242.3,791.8L243.6,792.1L245,792.4L246.5,792.8L247.9,793.2L249.3,793.5L250.7,793.9L252.2,794.4L253.6,794.8L255,795.2L256.4,795.6L257.9,796.1L259.3,796.5L260.7,796.9L262.1,797.3L263.4,797.7L264.8,798.1L266.2,798.5L267.5,798.9L268.9,799.2L270.2,799.6L271.6,800L272.9,800.3L274.3,800.7L275.6,801L277,801.4L278.3,801.8L279.6,802.2L280.9,802.5L282.2,802.9L283.4,803.3L284.7,803.7L286,804L287.3,804.4L288.7,804.8L290,805.1L291.4,805.5L292.8,805.9L294.1,806.3L295.5,806.7L296.9,807.2L298.3,807.7L299.6,808.3L301,809L302.4,809.8L303.8,810.6L305.2,811.4L306.6,812.3L308,813.2L309.4,814L310.8,814.8L312.2,815.5L313.6,816.2L314.9,816.8L316.3,817.5L317.7,818L319.1,818.6L320.4,819.2L321.8,819.8L323.2,820.4L324.5,821L325.9,821.7L327.2,822.4L328.6,823.1L329.9,823.9L331.2,824.7L332.6,825.6L334,826.5L335.4,827.5L336.8,828.5L338.1,829.5L339.5,830.6L340.9,831.7L342.3,832.7L343.7,833.8L345.1,834.9L346.6,835.9L348,837L349.4,837.9L350.8,838.8L352.2,839.7L353.7,840.4L355.1,841.1L356.6,841.7L358,842.2L359.5,842.6L360.9,842.9L362.4,843.3L363.8,843.6L365.3,844L366.7,844.4L368.2,844.9L369.6,845.4L371.1,846.1L372.5,846.8L373.8,847.7L375.2,848.6L376.6,849.6L377.9,850.7L379.3,851.8L380.6,853L382,854.2L383.4,855.5L384.8,856.7L386.2,858L387.7,859.2L389.1,860.4L390.5,861.5L391.9,862.5L393.3,863.5L394.7,864.4L396,865.3L397.4,866.2L398.8,867.2L400.2,868.2L401.7,869.4L403.2,870.6L404.6,871.9L406.1,873.2L407.6,874.5L409.1,875.9L410.5,877.3L412,878.6L413.5,879.9L414.9,881.1L416.4,882.3L417.8,883.4L419.2,884.5L420.6,885.6L422.1,886.7L423.5,887.8L424.8,888.8L426.1,889.8L427.5,890.8L428.8,891.7L430.1,892.6L431.5,893.5L432.8,894.3L434.1,895.1L435.6,895.9L437,896.6L438.5,897.3L440,898.1L441.4,899L442.9,899.9L444.3,901.1L445.8,902.4L447.2,903.8L448.5,905.4L449.9,907.1L451.2,908.7L452.6,910.3L454,911.8L455.4,913.2L456.9,914.5L458.3,915.7L459.7,916.8L461.1,917.8L462.5,918.8L464,919.7L465.4,920.5L466.8,921.4L468.2,922.2L469.5,923L470.9,923.9L472.2,924.7L473.6,925.7L474.9,926.7L476.3,927.7L477.6,928.9L479,930.1L480.5,931.6L481.9,933.1L483.4,934.6L484.8,936.1L486.3,937.5L487.7,938.8L489.2,939.8L490.6,940.5L491.9,941.1L493.3,941.5L494.7,941.7L496.1,941.9L497.4,942.1L498.8,942.2L500.2,942.5L501.6,942.8L502.9,943.2L504.3,943.9L505.7,944.7L507.1,945.8L508.5,947.1L509.9,948.3L511.3,949.5L512.7,950.5L514.1,951.2L515.4,951.6L516.8,951.9L518.2,952.1L519.6,952.4L520.9,952.8L522.3,953.3L523.7,954.2L525.1,955.4L526.4,957.1L527.8,959.3L529.2,962.1L530.6,965.2L532,968L533.4,970.3L534.9,972.1L536.3,973.3L537.7,974.1L539.1,974.6L540.5,974.7L542,974.7L543.4,974.5L544.8,974.2L546.2,974L547.7,973.9L549.1,973.9L550.6,974.2L552.1,974.6L553.6,975.3L555,976.1L556.5,976.9L558,977.9L559.5,978.8L561,979.7L562.4,980.5L563.9,981.3L565.3,982L566.7,982.8L568.1,983.6L569.6,984.5L571,985.5L572.3,986.5L573.6,987.6L574.9,988.8L576.2,990L577.6,991.3L578.9,992.5L580.2,993.7L581.5,994.9L582.9,996.1L584.2,997.1L585.6,998.2L587,999.1L588.3,1000L589.7,1000.8L591,1001.5L592.4,1002.2L593.8,1002.8L595.1,1003.3L596.5,1003.8L597.8,1004.2L599.2,1004.7L600.5,1005L601.9,1005.4L603.3,1005.8L604.7,1006.1L606.1,1006.5L607.5,1006.9L608.9,1007.2L610.2,1007.6L611.6,1008L613,1008.4L614.4,1008.9L615.8,1009.3L617.2,1009.8L618.7,1010.3L620.2,1010.9L621.7,1011.5L623.1,1012.1L624.6,1012.7L626.1,1013.3L627.5,1013.8L628.9,1014.4L630.2,1014.9L631.6,1015.5L633,1016.1L634.4,1016.7L635.7,1017.4L637.1,1018.2L638.2,1018.9L639.4,1019.6L640.5,1020.4L641.6,1021.2" fill="none" stroke="#00CBCC" stroke-width="1.3"/>
<g fill="#00CBCC"><polygon points="132.5,778.1 120.4,771.5 120.4,784.7"/><polygon points="140.5,778.7 128.4,772.1 128.4,785.3"/><polygon points="156.1,779.9 144,773.3 144,786.5"/><polygon points="163.9,780.7 151.8,774.1 151.8,787.3"/><polygon points="171.7,781.6 159.6,775 159.6,788.2"/><polygon points="187.8,783.4 175.7,776.8 175.7,790"/><polygon points="195.5,784.2 183.4,777.6 183.4,790.8"/><polygon points="209.1,786.3 197,779.7 197,792.9"/><polygon points="220,787.7 207.9,781.1 207.9,794.3"/><polygon points="231.1,789.2 219,782.6 219,795.8"/><polygon points="243.7,790.7 231.6,784.1 231.6,797.3"/><polygon points="251.4,792.1 239.3,785.5 239.3,798.7"/><polygon points="267.1,796.5 255,789.9 255,803.1"/><polygon points="274,798.5 261.9,791.9 261.9,805.1"/><polygon points="286.1,801.8 274,795.2 274,808.4"/><polygon points="295.1,804.4 283,797.8 283,811"/><polygon points="308.8,809 296.7,802.4 296.7,815.6"/><polygon points="318.6,814.8 306.5,808.2 306.5,821.4"/><polygon points="329.6,819.8 317.5,813.2 317.5,826.4"/><polygon points="340.4,825.6 328.3,819 328.3,832.2"/><polygon points="351.5,833.8 339.4,827.2 339.4,840.4"/><polygon points="362.9,841.1 350.8,834.5 350.8,847.7"/><polygon points="378.9,846.1 366.8,839.5 366.8,852.7"/><polygon points="389.8,854.2 377.7,847.6 377.7,860.8"/><polygon points="398.3,861.5 386.2,854.9 386.2,868.1"/><polygon points="408,868.2 395.9,861.6 395.9,874.8"/><polygon points="421.3,879.9 409.2,873.3 409.2,886.5"/><polygon points="431.3,887.8 419.2,881.2 419.2,894.4"/><polygon points="441.9,895.1 429.8,888.5 429.8,901.7"/><polygon points="453.6,902.4 441.5,895.8 441.5,909"/><polygon points="460.4,910.3 448.3,903.7 448.3,916.9"/><polygon points="474.6,921.4 462.5,914.8 462.5,928"/><polygon points="486.8,930.1 474.7,923.5 474.7,936.7"/><polygon points="497,939.8 484.9,933.2 484.9,946.4"/><polygon points="513.5,944.7 501.4,938.1 501.4,951.3"/><polygon points="520.5,950.5 508.4,943.9 508.4,957.1"/><polygon points="535.6,959.3 523.5,952.7 523.5,965.9"/><polygon points="539.8,968 527.7,961.4 527.7,974.6"/><polygon points="556.9,973.9 544.8,967.3 544.8,980.5"/><polygon points="568.8,979.7 556.7,973.1 556.7,986.3"/><polygon points="578.8,985.5 566.7,978.9 566.7,992.1"/><polygon points="589.3,994.9 577.2,988.3 577.2,1001.5"/><polygon points="600.2,1002.2 588.1,995.6 588.1,1008.8"/><polygon points="609.7,1005.4 597.6,998.8 597.6,1012"/><polygon points="625,1009.8 612.9,1003.2 612.9,1016.4"/><polygon points="633.9,1013.3 621.8,1006.7 621.8,1019.9"/><polygon points="644.9,1018.2 632.8,1011.6 632.8,1024.8"/><polygon points="649.4,1021.2 637.3,1014.6 637.3,1027.8"/></g>
<path d="M124.7,718.3L126,718.4L127.4,718.5L128.7,718.6L130,718.7L131.4,718.8L132.7,718.9L134.1,719L135.5,719.1L137,719.2L138.4,719.4L139.8,719.5L141.2,719.6L142.6,719.8L144,719.9L145.5,720.1L146.9,720.2L148.3,720.4L149.6,720.6L150.9,720.7L152.2,720.9L153.5,721.1L154.8,721.3L156.1,721.5L157.4,721.7L158.7,721.9L160,722.1L161.3,722.3L162.6,722.5L163.9,722.7L165.4,722.9L166.8,723L168.3,723.1L169.8,723.2L171.2,723.3L172.7,723.4L174.1,723.6L175.6,723.7L177.1,723.8L178.5,724L180,724.2L181.3,724.4L182.6,724.6L183.8,724.9L185.1,725.1L186.4,725.4L187.7,725.6L189.1,725.8L190.4,726L191.8,726.2L193.1,726.4L194.5,726.5L195.9,726.7L197.2,726.9L198.6,727L199.9,727.2L201.3,727.4L202.7,727.6L204,727.8L205.4,728.1L206.8,728.3L208.1,728.6L209.5,728.9L210.8,729.1L212.2,729.4L213.6,729.7L215,729.9L216.4,730.2L217.8,730.5L219.1,730.7L220.5,731L221.9,731.3L223.3,731.5L224.7,731.7L226.1,732L227.5,732.2L228.9,732.5L230.3,732.7L231.7,733L233.1,733.2L234.5,733.5L235.9,733.8L237.2,734.1L238.5,734.4L239.8,734.6L241,734.9L242.3,735.1L243.6,735.3L245,735.4L246.5,735.5L247.9,735.6L249.3,735.6L250.7,735.7L252.2,735.9L253.6,736.1L255,736.4L256.4,736.8L257.9,737.4L259.3,738.2L260.7,739.1L262.1,740.2L263.4,741.2L264.8,742.2L266.2,743.1L267.5,743.8L268.9,744.3L270.2,744.7L271.6,744.9L272.9,745.2L274.3,745.3L275.6,745.5L277,745.8L278.3,746.1L279.6,746.5L280.9,747L282.2,747.5L283.4,748.1L284.7,748.7L286,749.3L287.3,749.9L288.7,750.5L290,751.1L291.4,751.6L292.8,752.2L294.1,752.7L295.5,753.2L296.9,753.7L298.3,754.2L299.6,754.7L301,755.2L302.4,755.8L303.8,756.3L305.2,756.9L306.6,757.5L308,758.1L309.4,758.8L310.8,759.4L312.2,760L313.6,760.7L314.9,761.3L316.3,762L317.7,762.6L319.1,763.2L320.4,763.8L321.8,764.4L323.2,765L324.5,765.5L325.9,766.1L327.2,766.8L328.6,767.6L329.9,768.6L331.2,769.7L332.6,771.1L334,772.7L335.4,774.6L336.8,776.5L338.1,778.5L339.5,780.5L340.9,782.4L342.3,784.2L343.7,785.7L345.1,787L346.6,788L348,788.8L349.4,789.4L350.8,789.8L352.2,790.1L353.7,790.4L355.1,790.7L356.6,791L358,791.3L359.5,791.7L360.9,792.1L362.4,792.6L363.8,793.1L365.3,793.8L366.7,794.5L368.2,795.4L369.6,796.3L371.1,797.4L372.5,798.5L373.8,799.8L375.2,801.1L376.6,802.4L377.9,803.9L379.3,805.3L380.6,806.8L382,808.2L383.4,809.7L384.8,811.1L386.2,812.5L387.7,813.9L389.1,815.2L390.5,816.4L391.9,817.5L393.3,818.6L394.7,819.6L396,820.6L397.4,821.6L398.8,822.6L400.2,823.6L401.7,824.7L403.2,825.8L404.6,826.9L406.1,828.1L407.6,829.3L409.1,830.5L410.5,831.8L412,833.1L413.5,834.5L414.9,835.9L416.4,837.3L417.8,838.7L419.2,840.2L420.6,841.7L422.1,843.2L423.5,844.7L424.8,846.1L426.1,847.5L427.5,848.9L428.8,850.3L430.1,851.6L431.5,852.8L432.8,853.9L434.1,854.9L435.6,855.9L437,856.7L438.5,857.6L440,858.5L441.4,859.5L442.9,860.7L444.3,862.1L445.8,863.9L447.2,865.8L448.5,868L449.9,870.2L451.2,872.3L452.6,874.2L454,875.9L455.4,877.2L456.9,878.2L458.3,879.1L459.7,879.8L461.1,880.4L462.5,881L464,881.6L465.4,882.3L466.8,883.2L468.2,884.2L469.5,885.3L470.9,886.6L472.2,888L473.6,889.5L474.9,891.1L476.3,892.7L477.6,894.4L479,896L480.5,897.7L481.9,899.4L483.4,901L484.8,902.5L486.3,903.9L487.7,905.1L489.2,906.1L490.6,906.9L491.9,907.5L493.3,907.9L494.7,908.4L496.1,908.8L497.4,909.2L498.8,909.7L500.2,910.4L501.6,911.1L502.9,912.1L504.3,913.4L505.7,914.9L507.1,916.8L508.5,918.8L509.9,920.9L511.3,922.7L512.7,924.2L514.1,925.2L515.4,925.8L516.8,926L518.2,926.1L519.6,926.2L520.9,926.3L522.3,926.5L523.7,927.1L525.1,928L526.4,929.4L527.8,931.5L529.2,934.3L530.6,937.4L532,940.3L533.4,942.8L534.9,944.7L536.3,946.1L537.7,947.1L539.1,947.7L540.5,948.2L542,948.4L543.4,948.5L544.8,948.5L546.2,948.6L547.7,948.8L549.1,949.1L550.6,949.7L552.1,950.5L553.6,951.5L555,952.7L556.5,953.9L558,955.2L559.5,956.5L561,957.8L562.4,959L563.9,960.1L565.3,961.2L566.7,962.3L568.1,963.4L569.6,964.7L571,966L572.3,967.3L573.6,968.8L574.9,970.2L576.2,971.6L577.6,973L578.9,974.2L580.2,975.3L581.5,976.2L582.9,976.9L584.2,977.4L585.6,977.7L587,978L588.3,978.3L589.7,978.6L591,979.1L592.4,979.7L593.8,980.5L595.1,981.5L596.5,982.7L597.8,983.8L599.2,985L600.5,986.1L601.9,987L603.3,987.8L604.7,988.4L606.1,988.8L607.5,989.1L608.9,989.4L610.2,989.6L611.6,989.8L613,990.1L614.4,990.4L615.8,990.8L617.2,991.4L618.7,992.2L620.2,993.1L621.7,994L623.1,995L624.6,995.9L626.1,996.6L627.5,997.1L628.9,997.5L630.2,997.9L631.6,998.3L633,998.8L634.4,999.5L635.7,1000.4L637.1,1001.6L638.2,1002.8L639.4,1004.3L640.5,1005.8L641.6,1007.4" fill="none" stroke="#7D4E4E" stroke-width="1.3"/>
<g fill="#7D4E4E"><polygon points="124.7,712.4 130.2,715.4 130.2,721.2 124.7,724.2 119.2,721.2 119.2,715.4"/><polygon points="132.7,713 138.2,716 138.2,721.8 132.7,724.8 127.2,721.8 127.2,716"/><polygon points="148.3,714.5 153.8,717.5 153.8,723.3 148.3,726.3 142.8,723.3 142.8,717.5"/><polygon points="156.1,715.6 161.6,718.6 161.6,724.4 156.1,727.4 150.6,724.4 150.6,718.6"/><polygon points="163.9,716.8 169.4,719.8 169.4,725.6 163.9,728.6 158.4,725.6 158.4,719.8"/><polygon points="180,718.3 185.5,721.3 185.5,727.1 180,730.1 174.5,727.1 174.5,721.3"/><polygon points="187.7,719.7 193.2,722.7 193.2,728.5 187.7,731.5 182.2,728.5 182.2,722.7"/><polygon points="201.3,721.5 206.8,724.5 206.8,730.3 201.3,733.3 195.8,730.3 195.8,724.5"/><polygon points="212.2,723.5 217.7,726.5 217.7,732.3 212.2,735.3 206.7,732.3 206.7,726.5"/><polygon points="223.3,725.6 228.8,728.6 228.8,734.4 223.3,737.4 217.8,734.4 217.8,728.6"/><polygon points="235.9,727.9 241.4,730.9 241.4,736.7 235.9,739.7 230.4,736.7 230.4,730.9"/><polygon points="243.6,729.4 249.1,732.4 249.1,738.2 243.6,741.2 238.1,738.2 238.1,732.4"/><polygon points="259.3,732.3 264.8,735.3 264.8,741.1 259.3,744.1 253.8,741.1 253.8,735.3"/><polygon points="266.2,737.2 271.7,740.2 271.7,746 266.2,749 260.7,746 260.7,740.2"/><polygon points="278.3,740.2 283.8,743.2 283.8,749 278.3,752 272.8,749 272.8,743.2"/><polygon points="287.3,744 292.8,747 292.8,752.8 287.3,755.8 281.8,752.8 281.8,747"/><polygon points="301,749.3 306.5,752.3 306.5,758.1 301,761.1 295.5,758.1 295.5,752.3"/><polygon points="310.8,753.5 316.3,756.5 316.3,762.3 310.8,765.3 305.3,762.3 305.3,756.5"/><polygon points="321.8,758.5 327.3,761.5 327.3,767.3 321.8,770.3 316.3,767.3 316.3,761.5"/><polygon points="332.6,765.2 338.1,768.2 338.1,774 332.6,777 327.1,774 327.1,768.2"/><polygon points="343.7,779.8 349.2,782.8 349.2,788.6 343.7,791.6 338.2,788.6 338.2,782.8"/><polygon points="355.1,784.8 360.6,787.8 360.6,793.6 355.1,796.6 349.6,793.6 349.6,787.8"/><polygon points="371.1,791.5 376.6,794.5 376.6,800.3 371.1,803.3 365.6,800.3 365.6,794.5"/><polygon points="382,802.3 387.5,805.3 387.5,811.1 382,814.1 376.5,811.1 376.5,805.3"/><polygon points="390.5,810.5 396,813.5 396,819.3 390.5,822.3 385,819.3 385,813.5"/><polygon points="400.2,817.7 405.7,820.7 405.7,826.5 400.2,829.5 394.7,826.5 394.7,820.7"/><polygon points="413.5,828.6 419,831.6 419,837.4 413.5,840.4 408,837.4 408,831.6"/><polygon points="423.5,838.8 429,841.8 429,847.6 423.5,850.6 418,847.6 418,841.8"/><polygon points="434.1,849 439.6,852 439.6,857.8 434.1,860.8 428.6,857.8 428.6,852"/><polygon points="445.8,858 451.3,861 451.3,866.8 445.8,869.8 440.3,866.8 440.3,861"/><polygon points="452.6,868.3 458.1,871.3 458.1,877.1 452.6,880.1 447.1,877.1 447.1,871.3"/><polygon points="466.8,877.3 472.3,880.3 472.3,886.1 466.8,889.1 461.3,886.1 461.3,880.3"/><polygon points="479,890.1 484.5,893.1 484.5,898.9 479,901.9 473.5,898.9 473.5,893.1"/><polygon points="489.2,900.2 494.7,903.2 494.7,909 489.2,912 483.7,909 483.7,903.2"/><polygon points="505.7,909 511.2,912 511.2,917.8 505.7,920.8 500.2,917.8 500.2,912"/><polygon points="512.7,918.3 518.2,921.3 518.2,927.1 512.7,930.1 507.2,927.1 507.2,921.3"/><polygon points="527.8,925.6 533.3,928.6 533.3,934.4 527.8,937.4 522.3,934.4 522.3,928.6"/><polygon points="532,934.4 537.5,937.4 537.5,943.2 532,946.2 526.5,943.2 526.5,937.4"/><polygon points="549.1,943.2 554.6,946.2 554.6,952 549.1,955 543.6,952 543.6,946.2"/><polygon points="561,951.9 566.5,954.9 566.5,960.7 561,963.7 555.5,960.7 555.5,954.9"/><polygon points="571,960.1 576.5,963.1 576.5,968.9 571,971.9 565.5,968.9 565.5,963.1"/><polygon points="581.5,970.3 587,973.3 587,979.1 581.5,982.1 576,979.1 576,973.3"/><polygon points="592.4,973.8 597.9,976.8 597.9,982.6 592.4,985.6 586.9,982.6 586.9,976.8"/><polygon points="601.9,981.1 607.4,984.1 607.4,989.9 601.9,992.9 596.4,989.9 596.4,984.1"/><polygon points="617.2,985.5 622.7,988.5 622.7,994.3 617.2,997.3 611.7,994.3 611.7,988.5"/><polygon points="626.1,990.7 631.6,993.7 631.6,999.5 626.1,1002.5 620.6,999.5 620.6,993.7"/><polygon points="637.1,995.7 642.6,998.7 642.6,1004.5 637.1,1007.5 631.6,1004.5 631.6,998.7"/><polygon points="641.6,1001.5 647.1,1004.5 647.1,1010.3 641.6,1013.3 636.1,1010.3 636.1,1004.5"/></g>
<g stroke="#000" stroke-width="1.5" fill="none" stroke-linecap="butt">
<rect x="82.6" y="690.1" width="587.4" height="434.3"/>
<path d="M82.6,1106.31h4.6M82.6,1088.21h9.2M82.6,1070.12h4.6M82.6,1052.02h9.2M82.6,1033.93h4.6M82.6,1015.83h9.2M82.6,997.74h4.6M82.6,979.64h9.2M82.6,961.55h4.6M82.6,943.45h9.2M82.6,925.36h4.6M82.6,907.26h9.2M82.6,889.17h4.6M82.6,871.07h9.2M82.6,852.98h4.6M82.6,834.88h9.2M82.6,816.79h4.6M82.6,798.69h9.2M82.6,780.60h4.6M82.6,762.50h9.2M82.6,744.41h4.6M82.6,726.31h9.2M82.6,708.22h4.6M110.55,1124.4v-4.6M138.50,1124.4v-9.2M166.45,1124.4v-4.6M194.40,1124.4v-9.2M222.35,1124.4v-4.6M250.30,1124.4v-9.2M278.25,1124.4v-4.6M306.20,1124.4v-9.2M334.15,1124.4v-4.6M362.10,1124.4v-9.2M390.05,1124.4v-4.6M418.00,1124.4v-9.2M445.95,1124.4v-4.6M473.90,1124.4v-9.2M501.85,1124.4v-4.6M529.80,1124.4v-9.2M557.75,1124.4v-4.6M585.70,1124.4v-9.2M613.65,1124.4v-4.6M641.60,1124.4v-9.2"/>
</g>
<g font-size="19.2">
<text x="72.4" y="1130" text-anchor="end" textLength="10.1" lengthAdjust="spacingAndGlyphs">0</text>
<text x="72.4" y="1093.8" text-anchor="end" textLength="20.2" lengthAdjust="spacingAndGlyphs">50</text>
<text x="72.4" y="1057.6" text-anchor="end" textLength="30.2" lengthAdjust="spacingAndGlyphs">100</text>
<text x="72.4" y="1021.4" text-anchor="end" textLength="30.2" lengthAdjust="spacingAndGlyphs">150</text>
<text x="72.4" y="985.2" text-anchor="end" textLength="30.2" lengthAdjust="spacingAndGlyphs">200</text>
<text x="72.4" y="949.1" text-anchor="end" textLength="30.2" lengthAdjust="spacingAndGlyphs">250</text>
<text x="72.4" y="912.9" text-anchor="end" textLength="30.2" lengthAdjust="spacingAndGlyphs">300</text>
<text x="72.4" y="876.7" text-anchor="end" textLength="30.2" lengthAdjust="spacingAndGlyphs">350</text>
<text x="72.4" y="840.5" text-anchor="end" textLength="30.2" lengthAdjust="spacingAndGlyphs">400</text>
<text x="72.4" y="804.3" text-anchor="end" textLength="30.2" lengthAdjust="spacingAndGlyphs">450</text>
<text x="72.4" y="768.1" text-anchor="end" textLength="30.2" lengthAdjust="spacingAndGlyphs">500</text>
<text x="72.4" y="731.9" text-anchor="end" textLength="30.2" lengthAdjust="spacingAndGlyphs">550</text>
<text x="72.4" y="695.7" text-anchor="end" textLength="30.2" lengthAdjust="spacingAndGlyphs">600</text>
<text x="82.6" y="1146.8" text-anchor="middle" textLength="25.2" lengthAdjust="spacingAndGlyphs">0.0</text>
<text x="138.5" y="1146.8" text-anchor="middle" textLength="25.2" lengthAdjust="spacingAndGlyphs">0.5</text>
<text x="194.4" y="1146.8" text-anchor="middle" textLength="25.2" lengthAdjust="spacingAndGlyphs">1.0</text>
<text x="250.3" y="1146.8" text-anchor="middle" textLength="25.2" lengthAdjust="spacingAndGlyphs">1.5</text>
<text x="306.2" y="1146.8" text-anchor="middle" textLength="25.2" lengthAdjust="spacingAndGlyphs">2.0</text>
<text x="362.1" y="1146.8" text-anchor="middle" textLength="25.2" lengthAdjust="spacingAndGlyphs">2.5</text>
<text x="418" y="1146.8" text-anchor="middle" textLength="25.2" lengthAdjust="spacingAndGlyphs">3.0</text>
<text x="473.9" y="1146.8" text-anchor="middle" textLength="25.2" lengthAdjust="spacingAndGlyphs">3.5</text>
<text x="529.8" y="1146.8" text-anchor="middle" textLength="25.2" lengthAdjust="spacingAndGlyphs">4.0</text>
<text x="585.7" y="1146.8" text-anchor="middle" textLength="25.2" lengthAdjust="spacingAndGlyphs">4.5</text>
<text x="641.6" y="1146.8" text-anchor="middle" textLength="25.2" lengthAdjust="spacingAndGlyphs">5.0</text>
</g>
<text x="376.6" y="1182" font-size="23.8" text-anchor="middle" textLength="155" lengthAdjust="spacingAndGlyphs">Thickness(mm)</text>
<text transform="translate(32.2,906.7) rotate(-90)" font-size="24.2" text-anchor="middle" textLength="152.8" lengthAdjust="spacingAndGlyphs">Temperature(°C)</text>
<g font-size="13.4" stroke="#000" stroke-width="0.15">
<text x="89.7" y="711.9" textLength="193.4" lengthAdjust="spacingAndGlyphs">y = -0.0535x<tspan font-size="8.8" dy="-5">2</tspan><tspan dy="5"> - 0.0832x + 22.063</tspan></text>
<text x="86.6" y="770.8" textLength="193" lengthAdjust="spacingAndGlyphs">y = -1.7237x<tspan font-size="8.8" dy="-5">2</tspan><tspan dy="5"> - 5.0256x + 103.85</tspan></text>
<text x="88.2" y="823.7" textLength="184.8" lengthAdjust="spacingAndGlyphs">y = -3.933x<tspan font-size="8.8" dy="-5">2</tspan><tspan dy="5"> - 7.2129x + 185.92</tspan></text>
<text x="91.9" y="876.5" textLength="192.5" lengthAdjust="spacingAndGlyphs">y = -5.8171x<tspan font-size="8.8" dy="-5">2</tspan><tspan dy="5"> - 10.437x + 263.61</tspan></text>
<text x="95.7" y="930" textLength="192.5" lengthAdjust="spacingAndGlyphs">y = -7.8165x<tspan font-size="8.8" dy="-5">2</tspan><tspan dy="5"> - 13.673x + 346.12</tspan></text>
<text x="95.7" y="984.2" textLength="187.3" lengthAdjust="spacingAndGlyphs">y = -9.607x2 - 17.742x + 426.49</text>
<text x="95.7" y="1040.2" textLength="195.5" lengthAdjust="spacingAndGlyphs">y = -11.521x2 - 20.251x + 501.45</text>
<text x="99.2" y="1093.3" textLength="194.5" lengthAdjust="spacingAndGlyphs">y = -13.241x2 - 25.797x + 591.03</text>
</g>
<rect x="489.5" y="690.1" width="179.7" height="194.4" fill="#fff" stroke="#6a6a6a" stroke-width="1.0"/>
<g font-size="19.6" stroke-width="0.2">
<path d="M492,703.9H540.8" stroke="#515151" stroke-width="1.3"/>
<g fill="#515151"><rect x="511.2" y="698.9" width="10" height="10"/></g>
<text stroke="#000" x="546.4" y="710.3" textLength="108.6" lengthAdjust="spacingAndGlyphs">Heat to 20°C</text>
<path d="M492,727.9H540.8" stroke="#F14040" stroke-width="1.3"/>
<g fill="#F14040"><circle cx="516.2" cy="727.9" r="5.4"/></g>
<text stroke="#000" x="546.4" y="734.2" textLength="108.6" lengthAdjust="spacingAndGlyphs">Heat to 40°C</text>
<path d="M492,751.8H540.8" stroke="#1A6FDF" stroke-width="1.3"/>
<g fill="#1A6FDF"><polygon points="509.5,755.9 522.9,755.9 516.2,744.7"/></g>
<text stroke="#000" x="546.4" y="758.2" textLength="108.6" lengthAdjust="spacingAndGlyphs">Heat to 60°C</text>
<path d="M492,775.8H540.8" stroke="#37AD6B" stroke-width="1.3"/>
<g fill="#37AD6B"><polygon points="509.5,771.6 522.9,771.6 516.2,782.9"/></g>
<text stroke="#000" x="546.4" y="782.1" textLength="108.6" lengthAdjust="spacingAndGlyphs">Heat to 80°C</text>
<path d="M492,799.7H540.8" stroke="#B177DE" stroke-width="1.3"/>
<g fill="#B177DE"><polygon points="509.5,799.7 516.2,793 522.9,799.7 516.2,806.4"/></g>
<text stroke="#000" x="546.4" y="806.1" textLength="119" lengthAdjust="spacingAndGlyphs">Heat to 100°C</text>
<path d="M492,823.6H540.8" stroke="#CC9900" stroke-width="1.3"/>
<g fill="#CC9900"><polygon points="508.8,823.6 520.3,817.4 520.3,829.9"/></g>
<text stroke="#000" x="546.4" y="830" textLength="119" lengthAdjust="spacingAndGlyphs">Heat to 120°C</text>
<path d="M492,847.6H540.8" stroke="#00CBCC" stroke-width="1.3"/>
<g fill="#00CBCC"><polygon points="523.6,847.6 512.1,841.4 512.1,853.8"/></g>
<text stroke="#000" x="546.4" y="854" textLength="119" lengthAdjust="spacingAndGlyphs">Heat to 140°C</text>
<path d="M492,871.5H540.8" stroke="#7D4E4E" stroke-width="1.3"/>
<g fill="#7D4E4E"><polygon points="516.2,865.9 521.5,868.7 521.5,874.4 516.2,877.2 510.9,874.4 510.9,868.7"/></g>
<text stroke="#000" x="546.4" y="877.9" textLength="119" lengthAdjust="spacingAndGlyphs">Heat to 160°C</text>
</g>
<rect x="82.6" y="690.1" width="587.4" height="434.3" fill="none" stroke="#000" stroke-width="1.5"/>
<text class="sans" x="359.6" y="1257.3" font-size="24" text-anchor="middle" textLength="31.6" lengthAdjust="spacingAndGlyphs" stroke="#000" stroke-width="0.2">(d)</text>
</g>
</svg>
</body></html>
